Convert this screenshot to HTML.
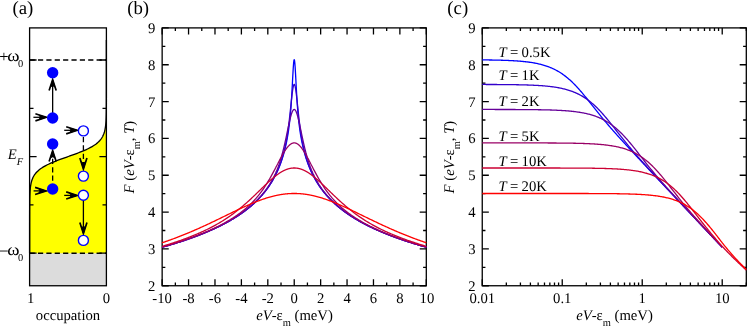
<!DOCTYPE html>
<html><head><meta charset="utf-8"><title>figure</title>
<style>html,body{margin:0;padding:0;background:#fff;width:747px;height:327px;overflow:hidden}svg{display:block;will-change:transform;text-rendering:geometricPrecision}</style></head>
<body>
<svg width="747" height="327" viewBox="0 0 747 327" font-family='"Liberation Serif", "DejaVu Serif", serif' font-size="14.7" fill="#000">
<rect width="747" height="327" fill="#fff"/>
<g id="panel-a">
<rect x="29.6" y="253.2" width="76.80000000000001" height="32.55000000000001" fill="#dcdcdc"/>
<polygon points="106.4,40 106.4,40.53 106.4,41.07 106.4,41.6 106.4,42.14 106.4,42.67 106.4,43.21 106.4,43.74 106.4,44.27 106.4,44.81 106.4,45.34 106.4,45.88 106.4,46.41 106.4,46.95 106.4,47.48 106.4,48.02 106.4,48.55 106.4,49.08 106.4,49.62 106.4,50.15 106.4,50.69 106.4,51.22 106.4,51.76 106.4,52.29 106.4,52.82 106.4,53.36 106.4,53.89 106.4,54.43 106.4,54.96 106.4,55.5 106.4,56.03 106.4,56.56 106.4,57.1 106.4,57.63 106.4,58.17 106.4,58.7 106.4,59.24 106.4,59.77 106.4,60.3 106.4,60.84 106.4,61.37 106.4,61.91 106.4,62.44 106.4,62.98 106.4,63.51 106.4,64.05 106.4,64.58 106.4,65.11 106.4,65.65 106.4,66.18 106.4,66.72 106.4,67.25 106.4,67.79 106.4,68.32 106.4,68.85 106.4,69.39 106.4,69.92 106.4,70.46 106.4,70.99 106.4,71.53 106.4,72.06 106.4,72.59 106.4,73.13 106.4,73.66 106.4,74.2 106.4,74.73 106.4,75.27 106.4,75.8 106.4,76.33 106.4,76.87 106.4,77.4 106.4,77.94 106.4,78.47 106.4,79.01 106.4,79.54 106.4,80.08 106.4,80.61 106.4,81.14 106.4,81.68 106.4,82.21 106.4,82.75 106.4,83.28 106.4,83.82 106.4,84.35 106.4,84.88 106.4,85.42 106.4,85.95 106.4,86.49 106.4,87.02 106.4,87.56 106.4,88.09 106.4,88.62 106.4,89.16 106.4,89.69 106.4,90.23 106.4,90.76 106.39,91.3 106.39,91.83 106.39,92.36 106.39,92.9 106.39,93.43 106.39,93.97 106.39,94.5 106.39,95.04 106.39,95.57 106.39,96.11 106.39,96.64 106.39,97.17 106.39,97.71 106.39,98.24 106.38,98.78 106.38,99.31 106.38,99.85 106.38,100.38 106.38,100.91 106.38,101.45 106.38,101.98 106.37,102.52 106.37,103.05 106.37,103.59 106.37,104.12 106.36,104.65 106.36,105.19 106.36,105.72 106.35,106.26 106.35,106.79 106.35,107.33 106.34,107.86 106.34,108.39 106.33,108.93 106.33,109.46 106.32,110 106.31,110.53 106.31,111.07 106.3,111.6 106.29,112.14 106.28,112.67 106.27,113.2 106.26,113.74 106.25,114.27 106.24,114.81 106.22,115.34 106.21,115.88 106.19,116.41 106.18,116.94 106.16,117.48 106.14,118.01 106.12,118.55 106.09,119.08 106.07,119.62 106.04,120.15 106.01,120.68 105.98,121.22 105.95,121.75 105.91,122.29 105.87,122.82 105.83,123.36 105.78,123.89 105.73,124.43 105.67,124.96 105.62,125.49 105.55,126.03 105.48,126.56 105.41,127.1 105.33,127.63 105.24,128.17 105.15,128.7 105.05,129.23 104.94,129.77 104.83,130.3 104.7,130.84 104.57,131.37 104.42,131.91 104.26,132.44 104.09,132.97 103.91,133.51 103.71,134.04 103.5,134.58 103.27,135.11 103.03,135.65 102.77,136.18 102.49,136.71 102.18,137.25 101.86,137.78 101.51,138.32 101.14,138.85 100.74,139.39 100.31,139.92 99.86,140.46 99.37,140.99 98.86,141.52 98.3,142.06 97.72,142.59 97.09,143.13 96.43,143.66 95.73,144.2 94.99,144.73 94.2,145.26 93.37,145.8 92.5,146.33 91.59,146.87 90.62,147.4 89.62,147.94 88.56,148.47 87.46,149 86.32,149.54 85.13,150.07 83.9,150.61 82.63,151.14 81.33,151.68 79.98,152.21 78.6,152.74 77.19,153.28 75.76,153.81 74.3,154.35 72.82,154.88 71.33,155.42 69.83,155.95 68.32,156.49 66.82,157.02 65.31,157.55 63.81,158.09 62.33,158.62 60.86,159.16 59.42,159.69 58,160.23 56.61,160.76 55.25,161.29 53.92,161.83 52.64,162.36 51.39,162.9 50.18,163.43 49.02,163.97 47.9,164.5 46.83,165.03 45.8,165.57 44.82,166.1 43.89,166.64 42.99,167.17 42.15,167.71 41.34,168.24 40.58,168.77 39.86,169.31 39.19,169.84 38.55,170.38 37.94,170.91 37.38,171.45 36.84,171.98 36.34,172.52 35.88,173.05 35.44,173.58 35.03,174.12 34.65,174.65 34.29,175.19 33.95,175.72 33.64,176.26 33.35,176.79 33.08,177.32 32.83,177.86 32.59,178.39 32.38,178.93 32.17,179.46 31.98,180 31.81,180.53 31.65,181.06 31.5,181.6 31.36,182.13 31.23,182.67 31.11,183.2 30.99,183.74 30.89,184.27 30.79,184.81 30.71,185.34 30.62,185.87 30.55,186.41 30.48,186.94 30.41,187.48 30.35,188.01 30.29,188.55 30.24,189.08 30.19,189.61 30.15,190.15 30.11,190.68 30.07,191.22 30.03,191.75 30,192.29 29.97,192.82 29.94,193.35 29.92,193.89 29.89,194.42 29.87,194.96 29.85,195.49 29.83,196.03 29.81,196.56 29.8,197.09 29.78,197.63 29.77,198.16 29.76,198.7 29.75,199.23 29.73,199.77 29.72,200.3 29.71,200.84 29.71,201.37 29.7,201.9 29.69,202.44 29.68,202.97 29.68,203.51 29.67,204.04 29.67,204.58 29.66,205.11 29.66,205.64 29.65,206.18 29.65,206.71 29.64,207.25 29.64,207.78 29.64,208.32 29.64,208.85 29.63,209.38 29.63,209.92 29.63,210.45 29.63,210.99 29.62,211.52 29.62,212.06 29.62,212.59 29.62,213.12 29.62,213.66 29.62,214.19 29.61,214.73 29.61,215.26 29.61,215.8 29.61,216.33 29.61,216.87 29.61,217.4 29.61,217.93 29.61,218.47 29.61,219 29.61,219.54 29.61,220.07 29.61,220.61 29.61,221.14 29.61,221.67 29.6,222.21 29.6,222.74 29.6,223.28 29.6,223.81 29.6,224.35 29.6,224.88 29.6,225.41 29.6,225.95 29.6,226.48 29.6,227.02 29.6,227.55 29.6,228.09 29.6,228.62 29.6,229.15 29.6,229.69 29.6,230.22 29.6,230.76 29.6,231.29 29.6,231.83 29.6,232.36 29.6,232.9 29.6,233.43 29.6,233.96 29.6,234.5 29.6,235.03 29.6,235.57 29.6,236.1 29.6,236.64 29.6,237.17 29.6,237.7 29.6,238.24 29.6,238.77 29.6,239.31 29.6,239.84 29.6,240.38 29.6,240.91 29.6,241.44 29.6,241.98 29.6,242.51 29.6,243.05 29.6,243.58 29.6,244.12 29.6,244.65 29.6,245.18 29.6,245.72 29.6,246.25 29.6,246.79 29.6,247.32 29.6,247.86 29.6,248.39 29.6,248.93 29.6,249.46 29.6,249.99 29.6,250.53 29.6,251.06 29.6,251.6 29.6,252.13 29.6,252.67 29.6,253.2 106.4,253.2" fill="#ffff00"/>
<polyline points="106.4,40 106.4,40.53 106.4,41.07 106.4,41.6 106.4,42.14 106.4,42.67 106.4,43.21 106.4,43.74 106.4,44.27 106.4,44.81 106.4,45.34 106.4,45.88 106.4,46.41 106.4,46.95 106.4,47.48 106.4,48.02 106.4,48.55 106.4,49.08 106.4,49.62 106.4,50.15 106.4,50.69 106.4,51.22 106.4,51.76 106.4,52.29 106.4,52.82 106.4,53.36 106.4,53.89 106.4,54.43 106.4,54.96 106.4,55.5 106.4,56.03 106.4,56.56 106.4,57.1 106.4,57.63 106.4,58.17 106.4,58.7 106.4,59.24 106.4,59.77 106.4,60.3 106.4,60.84 106.4,61.37 106.4,61.91 106.4,62.44 106.4,62.98 106.4,63.51 106.4,64.05 106.4,64.58 106.4,65.11 106.4,65.65 106.4,66.18 106.4,66.72 106.4,67.25 106.4,67.79 106.4,68.32 106.4,68.85 106.4,69.39 106.4,69.92 106.4,70.46 106.4,70.99 106.4,71.53 106.4,72.06 106.4,72.59 106.4,73.13 106.4,73.66 106.4,74.2 106.4,74.73 106.4,75.27 106.4,75.8 106.4,76.33 106.4,76.87 106.4,77.4 106.4,77.94 106.4,78.47 106.4,79.01 106.4,79.54 106.4,80.08 106.4,80.61 106.4,81.14 106.4,81.68 106.4,82.21 106.4,82.75 106.4,83.28 106.4,83.82 106.4,84.35 106.4,84.88 106.4,85.42 106.4,85.95 106.4,86.49 106.4,87.02 106.4,87.56 106.4,88.09 106.4,88.62 106.4,89.16 106.4,89.69 106.4,90.23 106.4,90.76 106.39,91.3 106.39,91.83 106.39,92.36 106.39,92.9 106.39,93.43 106.39,93.97 106.39,94.5 106.39,95.04 106.39,95.57 106.39,96.11 106.39,96.64 106.39,97.17 106.39,97.71 106.39,98.24 106.38,98.78 106.38,99.31 106.38,99.85 106.38,100.38 106.38,100.91 106.38,101.45 106.38,101.98 106.37,102.52 106.37,103.05 106.37,103.59 106.37,104.12 106.36,104.65 106.36,105.19 106.36,105.72 106.35,106.26 106.35,106.79 106.35,107.33 106.34,107.86 106.34,108.39 106.33,108.93 106.33,109.46 106.32,110 106.31,110.53 106.31,111.07 106.3,111.6 106.29,112.14 106.28,112.67 106.27,113.2 106.26,113.74 106.25,114.27 106.24,114.81 106.22,115.34 106.21,115.88 106.19,116.41 106.18,116.94 106.16,117.48 106.14,118.01 106.12,118.55 106.09,119.08 106.07,119.62 106.04,120.15 106.01,120.68 105.98,121.22 105.95,121.75 105.91,122.29 105.87,122.82 105.83,123.36 105.78,123.89 105.73,124.43 105.67,124.96 105.62,125.49 105.55,126.03 105.48,126.56 105.41,127.1 105.33,127.63 105.24,128.17 105.15,128.7 105.05,129.23 104.94,129.77 104.83,130.3 104.7,130.84 104.57,131.37 104.42,131.91 104.26,132.44 104.09,132.97 103.91,133.51 103.71,134.04 103.5,134.58 103.27,135.11 103.03,135.65 102.77,136.18 102.49,136.71 102.18,137.25 101.86,137.78 101.51,138.32 101.14,138.85 100.74,139.39 100.31,139.92 99.86,140.46 99.37,140.99 98.86,141.52 98.3,142.06 97.72,142.59 97.09,143.13 96.43,143.66 95.73,144.2 94.99,144.73 94.2,145.26 93.37,145.8 92.5,146.33 91.59,146.87 90.62,147.4 89.62,147.94 88.56,148.47 87.46,149 86.32,149.54 85.13,150.07 83.9,150.61 82.63,151.14 81.33,151.68 79.98,152.21 78.6,152.74 77.19,153.28 75.76,153.81 74.3,154.35 72.82,154.88 71.33,155.42 69.83,155.95 68.32,156.49 66.82,157.02 65.31,157.55 63.81,158.09 62.33,158.62 60.86,159.16 59.42,159.69 58,160.23 56.61,160.76 55.25,161.29 53.92,161.83 52.64,162.36 51.39,162.9 50.18,163.43 49.02,163.97 47.9,164.5 46.83,165.03 45.8,165.57 44.82,166.1 43.89,166.64 42.99,167.17 42.15,167.71 41.34,168.24 40.58,168.77 39.86,169.31 39.19,169.84 38.55,170.38 37.94,170.91 37.38,171.45 36.84,171.98 36.34,172.52 35.88,173.05 35.44,173.58 35.03,174.12 34.65,174.65 34.29,175.19 33.95,175.72 33.64,176.26 33.35,176.79 33.08,177.32 32.83,177.86 32.59,178.39 32.38,178.93 32.17,179.46 31.98,180 31.81,180.53 31.65,181.06 31.5,181.6 31.36,182.13 31.23,182.67 31.11,183.2 30.99,183.74 30.89,184.27 30.79,184.81 30.71,185.34 30.62,185.87 30.55,186.41 30.48,186.94 30.41,187.48 30.35,188.01 30.29,188.55 30.24,189.08 30.19,189.61 30.15,190.15 30.11,190.68 30.07,191.22 30.03,191.75 30,192.29 29.97,192.82 29.94,193.35 29.92,193.89 29.89,194.42 29.87,194.96 29.85,195.49 29.83,196.03 29.81,196.56 29.8,197.09 29.78,197.63 29.77,198.16 29.76,198.7 29.75,199.23 29.73,199.77 29.72,200.3 29.71,200.84 29.71,201.37 29.7,201.9 29.69,202.44 29.68,202.97 29.68,203.51 29.67,204.04 29.67,204.58 29.66,205.11 29.66,205.64 29.65,206.18 29.65,206.71 29.64,207.25 29.64,207.78 29.64,208.32 29.64,208.85 29.63,209.38 29.63,209.92 29.63,210.45 29.63,210.99 29.62,211.52 29.62,212.06 29.62,212.59 29.62,213.12 29.62,213.66 29.62,214.19 29.61,214.73 29.61,215.26 29.61,215.8 29.61,216.33 29.61,216.87 29.61,217.4 29.61,217.93 29.61,218.47 29.61,219 29.61,219.54 29.61,220.07 29.61,220.61 29.61,221.14 29.61,221.67 29.6,222.21 29.6,222.74 29.6,223.28 29.6,223.81 29.6,224.35 29.6,224.88 29.6,225.41 29.6,225.95 29.6,226.48 29.6,227.02 29.6,227.55 29.6,228.09 29.6,228.62 29.6,229.15 29.6,229.69 29.6,230.22 29.6,230.76 29.6,231.29 29.6,231.83 29.6,232.36 29.6,232.9 29.6,233.43 29.6,233.96 29.6,234.5 29.6,235.03 29.6,235.57 29.6,236.1 29.6,236.64 29.6,237.17 29.6,237.7 29.6,238.24 29.6,238.77 29.6,239.31 29.6,239.84 29.6,240.38 29.6,240.91 29.6,241.44 29.6,241.98 29.6,242.51 29.6,243.05 29.6,243.58 29.6,244.12 29.6,244.65 29.6,245.18 29.6,245.72 29.6,246.25 29.6,246.79 29.6,247.32 29.6,247.86 29.6,248.39 29.6,248.93 29.6,249.46 29.6,249.99 29.6,250.53 29.6,251.06 29.6,251.6 29.6,252.13 29.6,252.67 29.6,253.2" fill="none" stroke="#000" stroke-width="1.3"/>
<line x1="29.6" y1="60.0" x2="106.4" y2="60.0" stroke="#000" stroke-width="1.45" stroke-dasharray="5.2 3.17"/>
<line x1="29.6" y1="253.2" x2="106.4" y2="253.2" stroke="#000" stroke-width="1.45" stroke-dasharray="5.2 3.17"/>
<path d="M29.6,60h7.0M106.4,60h-7.0M29.6,108.3h3.9M106.4,108.3h-3.9M29.6,156.6h7.0M106.4,156.6h-7.0M29.6,204.9h3.9M106.4,204.9h-3.9M29.6,253.2h7.0M106.4,253.2h-7.0" stroke="#000" stroke-width="1.3" fill="none"/>
<rect x="29.6" y="27.9" width="76.80000000000001" height="257.85" fill="none" stroke="#000" stroke-width="1.3"/>
<line x1="52.65" y1="117.95" x2="52.65" y2="80.5" stroke="#000" stroke-width="1.3"/>
<path d="M56.2,90.6L52.65,79.7L49.1,90.6" fill="none" stroke="#000" stroke-width="1.7" stroke-linejoin="miter" stroke-miterlimit="10"/>
<path d="M52.65,78.3L55.55,87.7L52.65,86.2L49.75,87.7Z" fill="#000"/>
<line x1="52.65" y1="189" x2="52.65" y2="151.5" stroke="#000" stroke-width="1.3" stroke-dasharray="5.2 3.15" stroke-dashoffset="-8.25"/>
<path d="M56.2,161.6L52.65,150.7L49.1,161.6" fill="none" stroke="#000" stroke-width="1.7" stroke-linejoin="miter" stroke-miterlimit="10"/>
<path d="M52.65,149.3L55.55,158.7L52.65,157.2L49.75,158.7Z" fill="#000"/>
<line x1="83.4" y1="130.9" x2="83.4" y2="168.2" stroke="#000" stroke-width="1.3" stroke-dasharray="5.2 3.15" stroke-dashoffset="-6.1"/>
<path d="M79.85,158.1L83.4,169L86.95,158.1" fill="none" stroke="#000" stroke-width="1.7" stroke-linejoin="miter" stroke-miterlimit="10"/>
<path d="M83.4,170.4L80.5,161L83.4,162.5L86.3,161Z" fill="#000"/>
<line x1="83.4" y1="195.3" x2="83.4" y2="232.7" stroke="#000" stroke-width="1.3"/>
<path d="M79.85,222.6L83.4,233.5L86.95,222.6" fill="none" stroke="#000" stroke-width="1.7" stroke-linejoin="miter" stroke-miterlimit="10"/>
<path d="M83.4,234.9L80.5,225.5L83.4,227L86.3,225.5Z" fill="#000"/>
<line x1="33.4" y1="117.3" x2="45.5" y2="117.3" stroke="#000" stroke-width="1.3"/>
<path d="M35.4,120.85L46.3,117.3L35.4,113.75" fill="none" stroke="#000" stroke-width="1.7" stroke-linejoin="miter" stroke-miterlimit="10"/>
<path d="M47.7,117.3L38.3,120.2L39.8,117.3L38.3,114.4Z" fill="#000"/>
<line x1="33.6" y1="190.9" x2="45.2" y2="190.9" stroke="#000" stroke-width="1.3"/>
<path d="M35.1,194.45L46,190.9L35.1,187.35" fill="none" stroke="#000" stroke-width="1.7" stroke-linejoin="miter" stroke-miterlimit="10"/>
<path d="M47.4,190.9L38,193.8L39.5,190.9L38,188Z" fill="#000"/>
<line x1="64.2" y1="130.3" x2="76.3" y2="130.3" stroke="#000" stroke-width="1.3"/>
<path d="M66.2,133.85L77.1,130.3L66.2,126.75" fill="none" stroke="#000" stroke-width="1.7" stroke-linejoin="miter" stroke-miterlimit="10"/>
<path d="M78.5,130.3L69.1,133.2L70.6,130.3L69.1,127.4Z" fill="#000"/>
<line x1="64.2" y1="195.4" x2="76.3" y2="195.4" stroke="#000" stroke-width="1.3"/>
<path d="M66.2,198.95L77.1,195.4L66.2,191.85" fill="none" stroke="#000" stroke-width="1.7" stroke-linejoin="miter" stroke-miterlimit="10"/>
<path d="M78.5,195.4L69.1,198.3L70.6,195.4L69.1,192.5Z" fill="#000"/>
<circle cx="52.65" cy="72.8" r="5.7" fill="#0000ff"/>
<circle cx="52.65" cy="117.95" r="5.7" fill="#0000ff"/>
<circle cx="52.65" cy="144.0" r="5.7" fill="#0000ff"/>
<circle cx="52.65" cy="189.0" r="5.7" fill="#0000ff"/>
<circle cx="83.4" cy="130.9" r="5.0" fill="#fff" stroke="#0000ff" stroke-width="1.4"/>
<circle cx="83.4" cy="176.1" r="5.0" fill="#fff" stroke="#0000ff" stroke-width="1.4"/>
<circle cx="83.4" cy="195.3" r="5.0" fill="#fff" stroke="#0000ff" stroke-width="1.4"/>
<circle cx="83.4" cy="240.4" r="5.0" fill="#fff" stroke="#0000ff" stroke-width="1.4"/>
<text x="3.8" y="61.8" font-size="16.5" text-anchor="middle">+</text>
<text transform="translate(13.35,60.5) scale(1.27,1.12)" text-anchor="middle">ω</text>
<text x="20.55" y="67" font-size="10.44" text-anchor="middle">0</text>
<text x="3.6" y="256.6" font-size="18" text-anchor="middle">−</text>
<text transform="translate(13.35,254.8) scale(1.27,1.12)" text-anchor="middle">ω</text>
<text x="20.55" y="261.3" font-size="10.44" text-anchor="middle">0</text>
<text x="23.2" y="158.8" text-anchor="end" font-style="italic">E<tspan font-size="10.44" dy="6.1">F</tspan></text>
<text x="30.6" y="302.8" text-anchor="middle">1</text>
<text x="106.5" y="302.8" text-anchor="middle">0</text>
<text x="68" y="319.5" text-anchor="middle">occupation</text>
<text x="12.4" y="13.6" font-size="18.8">(a)</text>
</g>
<g id="panel-b">
<path d="M162.15,285.75v-6.6M162.15,27.9v6.6M188.56,285.75v-6.6M188.56,27.9v6.6M214.98,285.75v-6.6M214.98,27.9v6.6M241.39,285.75v-6.6M241.39,27.9v6.6M267.81,285.75v-6.6M267.81,27.9v6.6M294.23,285.75v-6.6M294.23,27.9v6.6M320.64,285.75v-6.6M320.64,27.9v6.6M347.05,285.75v-6.6M347.05,27.9v6.6M373.47,285.75v-6.6M373.47,27.9v6.6M399.88,285.75v-6.6M399.88,27.9v6.6M426.3,285.75v-6.6M426.3,27.9v6.6M175.36,285.75v-3.2M175.36,27.9v3.2M201.77,285.75v-3.2M201.77,27.9v3.2M228.19,285.75v-3.2M228.19,27.9v3.2M254.6,285.75v-3.2M254.6,27.9v3.2M281.02,285.75v-3.2M281.02,27.9v3.2M307.43,285.75v-3.2M307.43,27.9v3.2M333.85,285.75v-3.2M333.85,27.9v3.2M360.26,285.75v-3.2M360.26,27.9v3.2M386.68,285.75v-3.2M386.68,27.9v3.2M413.09,285.75v-3.2M413.09,27.9v3.2M162.15,285.75h6.6M426.3,285.75h-6.6M162.15,267.33h3.2M426.3,267.33h-3.2M162.15,248.91h6.6M426.3,248.91h-6.6M162.15,230.5h3.2M426.3,230.5h-3.2M162.15,212.08h6.6M426.3,212.08h-6.6M162.15,193.66h3.2M426.3,193.66h-3.2M162.15,175.24h6.6M426.3,175.24h-6.6M162.15,156.82h3.2M426.3,156.82h-3.2M162.15,138.41h6.6M426.3,138.41h-6.6M162.15,119.99h3.2M426.3,119.99h-3.2M162.15,101.57h6.6M426.3,101.57h-6.6M162.15,83.15h3.2M426.3,83.15h-3.2M162.15,64.74h6.6M426.3,64.74h-6.6M162.15,46.32h3.2M426.3,46.32h-3.2M162.15,27.9h6.6M426.3,27.9h-6.6" stroke="#000" stroke-width="1.3" fill="none"/>
<rect x="162.15" y="27.9" width="264.15" height="257.85" fill="none" stroke="#000" stroke-width="1.3"/>
<text x="155.45" y="290.75" text-anchor="end">2</text>
<text x="155.45" y="253.91" text-anchor="end">3</text>
<text x="155.45" y="217.08" text-anchor="end">4</text>
<text x="155.45" y="180.24" text-anchor="end">5</text>
<text x="155.45" y="143.41" text-anchor="end">6</text>
<text x="155.45" y="106.57" text-anchor="end">7</text>
<text x="155.45" y="69.74" text-anchor="end">8</text>
<text x="155.45" y="32.9" text-anchor="end">9</text>
<polyline points="162.15,247.2 163.09,246.94 164.04,246.67 164.98,246.41 165.92,246.14 166.87,245.86 167.81,245.59 168.75,245.31 169.7,245.04 170.64,244.76 171.58,244.47 172.53,244.19 173.47,243.9 174.41,243.61 175.36,243.32 176.3,243.03 177.24,242.73 178.19,242.43 179.13,242.13 180.07,241.83 181.02,241.52 181.96,241.22 182.9,240.91 183.85,240.59 184.79,240.28 185.73,239.96 186.68,239.64 187.62,239.31 188.56,238.98 189.51,238.65 190.45,238.32 191.4,237.98 192.34,237.64 193.28,237.3 194.23,236.95 195.17,236.61 196.11,236.25 197.06,235.9 198,235.54 198.94,235.17 199.89,234.81 200.83,234.44 201.77,234.06 202.72,233.69 203.66,233.3 204.6,232.92 205.55,232.53 206.49,232.13 207.43,231.74 208.38,231.33 209.32,230.93 210.26,230.52 211.21,230.1 212.15,229.68 213.09,229.25 214.04,228.82 214.98,228.38 215.92,227.94 216.87,227.5 217.81,227.05 218.75,226.59 219.7,226.12 220.64,225.65 221.58,225.18 222.53,224.7 223.47,224.21 224.41,223.72 225.36,223.21 226.3,222.71 227.24,222.19 228.19,221.67 229.13,221.14 230.07,220.6 231.02,220.05 231.96,219.5 232.9,218.94 233.85,218.37 234.79,217.79 235.73,217.2 236.68,216.6 237.62,215.99 238.56,215.37 239.51,214.74 240.45,214.1 241.39,213.45 242.34,212.78 243.28,212.11 244.23,211.42 245.17,210.71 246.11,210 247.06,209.27 248,208.52 248.94,207.76 249.89,206.99 250.83,206.2 251.77,205.39 252.72,204.56 253.66,203.71 254.6,202.84 255.55,201.96 256.49,201.04 257.43,200.11 258.38,199.15 259.32,198.17 260.26,197.16 261.21,196.12 262.15,195.05 263.09,193.95 264.04,192.82 264.98,191.65 265.92,190.44 266.87,189.19 267.81,187.89 268.75,186.55 269.7,185.16 270.64,183.71 271.58,182.2 272.53,180.63 273.47,178.99 274.41,177.27 274.55,177.03 274.68,176.78 274.81,176.53 274.94,176.27 275.07,176.02 275.21,175.77 275.34,175.51 275.47,175.25 275.6,174.99 275.73,174.72 275.87,174.46 276,174.19 276.13,173.92 276.26,173.65 276.39,173.38 276.53,173.11 276.66,172.83 276.79,172.55 276.92,172.27 277.06,171.98 277.19,171.7 277.32,171.41 277.45,171.12 277.58,170.83 277.72,170.53 277.85,170.24 277.98,169.94 278.11,169.64 278.24,169.33 278.38,169.02 278.51,168.71 278.64,168.4 278.77,168.09 278.9,167.77 279.04,167.45 279.17,167.13 279.3,166.8 279.43,166.47 279.56,166.14 279.7,165.8 279.83,165.46 279.96,165.12 280.09,164.78 280.23,164.43 280.36,164.08 280.49,163.72 280.62,163.37 280.75,163 280.89,162.64 281.02,162.27 281.15,161.9 281.28,161.52 281.41,161.14 281.55,160.76 281.68,160.37 281.81,159.97 281.94,159.58 282.07,159.18 282.21,158.77 282.34,158.36 282.47,157.94 282.6,157.52 282.73,157.1 282.87,156.67 283,156.23 283.13,155.79 283.26,155.35 283.39,154.9 283.53,154.44 283.66,153.98 283.79,153.51 283.92,153.03 284.06,152.55 284.19,152.06 284.32,151.57 284.45,151.07 284.58,150.56 284.72,150.04 284.85,149.52 284.98,148.99 285.11,148.45 285.24,147.9 285.38,147.35 285.51,146.78 285.64,146.21 285.77,145.62 285.9,145.03 286.04,144.43 286.17,143.82 286.3,143.19 286.43,142.56 286.56,141.91 286.7,141.25 286.83,140.58 286.96,139.89 287.09,139.19 287.23,138.48 287.36,137.75 287.49,137.01 287.62,136.25 287.75,135.47 287.89,134.67 288.02,133.86 288.15,133.02 288.28,132.16 288.41,131.28 288.55,130.38 288.68,129.45 288.81,128.5 288.94,127.51 289.07,126.5 289.21,125.45 289.34,124.37 289.47,123.25 289.6,122.09 289.73,120.89 289.87,119.65 290,118.36 290.13,117.01 290.26,115.62 290.39,114.16 290.53,112.65 290.66,111.07 290.79,109.42 290.92,107.7 291.06,105.9 291.19,104.03 291.32,102.08 291.45,100.05 291.58,97.94 291.72,95.75 291.85,93.49 291.98,91.16 292.11,88.76 292.24,86.32 292.38,83.84 292.51,81.34 292.64,78.84 292.77,76.37 292.9,73.94 293.04,71.61 293.17,69.39 293.3,67.32 293.43,65.43 293.56,63.77 293.7,62.35 293.83,61.22 293.96,60.4 294.09,59.89 294.23,59.72 294.36,59.89 294.49,60.4 294.62,61.22 294.75,62.35 294.89,63.77 295.02,65.43 295.15,67.32 295.28,69.39 295.41,71.61 295.55,73.94 295.68,76.37 295.81,78.84 295.94,81.34 296.07,83.84 296.21,86.32 296.34,88.76 296.47,91.16 296.6,93.49 296.73,95.75 296.87,97.94 297,100.05 297.13,102.08 297.26,104.03 297.39,105.9 297.53,107.7 297.66,109.42 297.79,111.07 297.92,112.65 298.06,114.16 298.19,115.62 298.32,117.01 298.45,118.36 298.58,119.65 298.72,120.89 298.85,122.09 298.98,123.25 299.11,124.37 299.24,125.45 299.38,126.5 299.51,127.51 299.64,128.5 299.77,129.45 299.9,130.38 300.04,131.28 300.17,132.16 300.3,133.02 300.43,133.86 300.56,134.67 300.7,135.47 300.83,136.25 300.96,137.01 301.09,137.75 301.22,138.48 301.36,139.19 301.49,139.89 301.62,140.58 301.75,141.25 301.89,141.91 302.02,142.56 302.15,143.19 302.28,143.82 302.41,144.43 302.55,145.03 302.68,145.62 302.81,146.21 302.94,146.78 303.07,147.35 303.21,147.9 303.34,148.45 303.47,148.99 303.6,149.52 303.73,150.04 303.87,150.56 304,151.07 304.13,151.57 304.26,152.06 304.39,152.55 304.53,153.03 304.66,153.51 304.79,153.98 304.92,154.44 305.06,154.9 305.19,155.35 305.32,155.79 305.45,156.23 305.58,156.67 305.72,157.1 305.85,157.52 305.98,157.94 306.11,158.36 306.24,158.77 306.38,159.18 306.51,159.58 306.64,159.97 306.77,160.37 306.9,160.76 307.04,161.14 307.17,161.52 307.3,161.9 307.43,162.27 307.56,162.64 307.7,163 307.83,163.37 307.96,163.72 308.09,164.08 308.22,164.43 308.36,164.78 308.49,165.12 308.62,165.46 308.75,165.8 308.89,166.14 309.02,166.47 309.15,166.8 309.28,167.13 309.41,167.45 309.55,167.77 309.68,168.09 309.81,168.4 309.94,168.71 310.07,169.02 310.21,169.33 310.34,169.64 310.47,169.94 310.6,170.24 310.73,170.53 310.87,170.83 311,171.12 311.13,171.41 311.26,171.7 311.39,171.98 311.53,172.27 311.66,172.55 311.79,172.83 311.92,173.11 312.06,173.38 312.19,173.65 312.32,173.92 312.45,174.19 312.58,174.46 312.72,174.72 312.85,174.99 312.98,175.25 313.11,175.51 313.24,175.77 313.38,176.02 313.51,176.27 313.64,176.53 313.77,176.78 313.9,177.03 314.04,177.27 314.98,178.99 315.92,180.63 316.87,182.2 317.81,183.71 318.75,185.16 319.7,186.55 320.64,187.89 321.58,189.19 322.53,190.44 323.47,191.65 324.41,192.82 325.36,193.95 326.3,195.05 327.24,196.12 328.19,197.16 329.13,198.17 330.07,199.15 331.02,200.11 331.96,201.04 332.9,201.96 333.85,202.84 334.79,203.71 335.73,204.56 336.68,205.39 337.62,206.2 338.56,206.99 339.51,207.76 340.45,208.52 341.39,209.27 342.34,210 343.28,210.71 344.22,211.42 345.17,212.11 346.11,212.78 347.05,213.45 348,214.1 348.94,214.74 349.89,215.37 350.83,215.99 351.77,216.6 352.72,217.2 353.66,217.79 354.6,218.37 355.55,218.94 356.49,219.5 357.43,220.05 358.38,220.6 359.32,221.14 360.26,221.67 361.21,222.19 362.15,222.71 363.09,223.21 364.04,223.72 364.98,224.21 365.92,224.7 366.87,225.18 367.81,225.65 368.75,226.12 369.7,226.59 370.64,227.05 371.58,227.5 372.53,227.94 373.47,228.38 374.41,228.82 375.36,229.25 376.3,229.68 377.24,230.1 378.19,230.52 379.13,230.93 380.07,231.33 381.02,231.74 381.96,232.13 382.9,232.53 383.85,232.92 384.79,233.3 385.73,233.69 386.68,234.06 387.62,234.44 388.56,234.81 389.51,235.17 390.45,235.54 391.39,235.9 392.34,236.25 393.28,236.61 394.22,236.95 395.17,237.3 396.11,237.64 397.05,237.98 398,238.32 398.94,238.65 399.88,238.98 400.83,239.31 401.77,239.64 402.72,239.96 403.66,240.28 404.6,240.59 405.55,240.91 406.49,241.22 407.43,241.52 408.38,241.83 409.32,242.13 410.26,242.43 411.21,242.73 412.15,243.03 413.09,243.32 414.04,243.61 414.98,243.9 415.92,244.19 416.87,244.47 417.81,244.76 418.75,245.04 419.7,245.31 420.64,245.59 421.58,245.86 422.53,246.14 423.47,246.41 424.41,246.67 425.36,246.94 426.3,247.2" fill="none" stroke="#0000ff" stroke-width="1.3" stroke-linejoin="round"/>
<polyline points="162.15,247.2 163.09,246.93 164.04,246.67 164.98,246.4 165.92,246.13 166.87,245.86 167.81,245.58 168.75,245.31 169.7,245.03 170.64,244.75 171.58,244.47 172.53,244.18 173.47,243.9 174.41,243.61 175.36,243.32 176.3,243.02 177.24,242.73 178.19,242.43 179.13,242.13 180.07,241.82 181.02,241.52 181.96,241.21 182.9,240.9 183.85,240.59 184.79,240.27 185.73,239.95 186.68,239.63 187.62,239.3 188.56,238.98 189.51,238.65 190.45,238.31 191.4,237.98 192.34,237.64 193.28,237.29 194.23,236.95 195.17,236.6 196.11,236.24 197.06,235.89 198,235.53 198.94,235.17 199.89,234.8 200.83,234.43 201.77,234.05 202.72,233.68 203.66,233.29 204.6,232.91 205.55,232.52 206.49,232.12 207.43,231.73 208.38,231.32 209.32,230.92 210.26,230.5 211.21,230.09 212.15,229.67 213.09,229.24 214.04,228.81 214.98,228.37 215.92,227.93 216.87,227.48 217.81,227.03 218.75,226.57 219.7,226.11 220.64,225.64 221.58,225.16 222.53,224.68 223.47,224.19 224.41,223.7 225.36,223.2 226.3,222.69 227.24,222.17 228.19,221.65 229.13,221.12 230.07,220.58 231.02,220.03 231.96,219.48 232.9,218.92 233.85,218.34 234.79,217.76 235.73,217.17 236.68,216.57 237.62,215.96 238.56,215.34 239.51,214.71 240.45,214.07 241.39,213.42 242.34,212.75 243.28,212.07 244.23,211.38 245.17,210.68 246.11,209.96 247.06,209.23 248,208.49 248.94,207.73 249.89,206.95 250.83,206.15 251.77,205.34 252.72,204.51 253.66,203.66 254.6,202.79 255.55,201.9 256.49,200.99 257.43,200.05 258.38,199.09 259.32,198.1 260.26,197.09 261.21,196.05 262.15,194.97 263.09,193.87 264.04,192.73 264.98,191.55 265.92,190.33 266.87,189.08 267.81,187.77 268.75,186.42 269.7,185.02 270.64,183.56 271.58,182.04 272.53,180.45 273.47,178.79 274.41,177.05 274.55,176.8 274.68,176.54 274.81,176.29 274.94,176.03 275.07,175.78 275.21,175.52 275.34,175.26 275.47,174.99 275.6,174.73 275.73,174.46 275.87,174.19 276,173.92 276.13,173.65 276.26,173.37 276.39,173.09 276.53,172.81 276.66,172.53 276.79,172.25 276.92,171.96 277.06,171.67 277.19,171.38 277.32,171.09 277.45,170.79 277.58,170.49 277.72,170.19 277.85,169.89 277.98,169.58 278.11,169.27 278.24,168.96 278.38,168.64 278.51,168.33 278.64,168.01 278.77,167.68 278.9,167.36 279.04,167.03 279.17,166.69 279.3,166.36 279.43,166.02 279.56,165.68 279.7,165.33 279.83,164.98 279.96,164.63 280.09,164.27 280.23,163.91 280.36,163.55 280.49,163.18 280.62,162.81 280.75,162.43 280.89,162.05 281.02,161.67 281.15,161.28 281.28,160.89 281.41,160.49 281.55,160.09 281.68,159.68 281.81,159.27 281.94,158.85 282.07,158.43 282.21,158 282.34,157.56 282.47,157.12 282.6,156.68 282.73,156.23 282.87,155.77 283,155.31 283.13,154.84 283.26,154.36 283.39,153.87 283.53,153.38 283.66,152.88 283.79,152.38 283.92,151.86 284.06,151.34 284.19,150.81 284.32,150.27 284.45,149.72 284.58,149.16 284.72,148.59 284.85,148.01 284.98,147.43 285.11,146.83 285.24,146.22 285.38,145.6 285.51,144.96 285.64,144.32 285.77,143.66 285.9,142.99 286.04,142.31 286.17,141.61 286.3,140.9 286.43,140.17 286.56,139.43 286.7,138.68 286.83,137.9 286.96,137.12 287.09,136.31 287.23,135.49 287.36,134.65 287.49,133.79 287.62,132.91 287.75,132.02 287.89,131.1 288.02,130.17 288.15,129.21 288.28,128.24 288.41,127.24 288.55,126.23 288.68,125.19 288.81,124.14 288.94,123.06 289.07,121.97 289.21,120.86 289.34,119.72 289.47,118.57 289.6,117.4 289.73,116.21 289.87,115.01 290,113.8 290.13,112.57 290.26,111.33 290.39,110.08 290.53,108.82 290.66,107.56 290.79,106.29 290.92,105.03 291.06,103.77 291.19,102.51 291.32,101.26 291.45,100.03 291.58,98.82 291.72,97.62 291.85,96.45 291.98,95.31 292.11,94.2 292.24,93.13 292.38,92.11 292.51,91.13 292.64,90.2 292.77,89.33 292.9,88.52 293.04,87.77 293.17,87.09 293.3,86.48 293.43,85.94 293.56,85.48 293.7,85.1 293.83,84.81 293.96,84.59 294.09,84.47 294.23,84.42 294.36,84.47 294.49,84.59 294.62,84.81 294.75,85.1 294.89,85.48 295.02,85.94 295.15,86.48 295.28,87.09 295.41,87.77 295.55,88.52 295.68,89.33 295.81,90.2 295.94,91.13 296.07,92.11 296.21,93.13 296.34,94.2 296.47,95.31 296.6,96.45 296.73,97.62 296.87,98.82 297,100.03 297.13,101.26 297.26,102.51 297.39,103.77 297.53,105.03 297.66,106.29 297.79,107.56 297.92,108.82 298.06,110.08 298.19,111.33 298.32,112.57 298.45,113.8 298.58,115.01 298.72,116.21 298.85,117.4 298.98,118.57 299.11,119.72 299.24,120.86 299.38,121.97 299.51,123.06 299.64,124.14 299.77,125.19 299.9,126.23 300.04,127.24 300.17,128.24 300.3,129.21 300.43,130.17 300.56,131.1 300.7,132.02 300.83,132.91 300.96,133.79 301.09,134.65 301.22,135.49 301.36,136.31 301.49,137.12 301.62,137.9 301.75,138.68 301.89,139.43 302.02,140.17 302.15,140.9 302.28,141.61 302.41,142.31 302.55,142.99 302.68,143.66 302.81,144.32 302.94,144.96 303.07,145.6 303.21,146.22 303.34,146.83 303.47,147.43 303.6,148.01 303.73,148.59 303.87,149.16 304,149.72 304.13,150.27 304.26,150.81 304.39,151.34 304.53,151.86 304.66,152.38 304.79,152.88 304.92,153.38 305.06,153.87 305.19,154.36 305.32,154.84 305.45,155.31 305.58,155.77 305.72,156.23 305.85,156.68 305.98,157.12 306.11,157.56 306.24,158 306.38,158.43 306.51,158.85 306.64,159.27 306.77,159.68 306.9,160.09 307.04,160.49 307.17,160.89 307.3,161.28 307.43,161.67 307.56,162.05 307.7,162.43 307.83,162.81 307.96,163.18 308.09,163.55 308.22,163.91 308.36,164.27 308.49,164.63 308.62,164.98 308.75,165.33 308.89,165.68 309.02,166.02 309.15,166.36 309.28,166.69 309.41,167.03 309.55,167.36 309.68,167.68 309.81,168.01 309.94,168.33 310.07,168.64 310.21,168.96 310.34,169.27 310.47,169.58 310.6,169.89 310.73,170.19 310.87,170.49 311,170.79 311.13,171.09 311.26,171.38 311.39,171.67 311.53,171.96 311.66,172.25 311.79,172.53 311.92,172.81 312.06,173.09 312.19,173.37 312.32,173.65 312.45,173.92 312.58,174.19 312.72,174.46 312.85,174.73 312.98,174.99 313.11,175.26 313.24,175.52 313.38,175.78 313.51,176.03 313.64,176.29 313.77,176.54 313.9,176.8 314.04,177.05 314.98,178.79 315.92,180.45 316.87,182.04 317.81,183.56 318.75,185.02 319.7,186.42 320.64,187.77 321.58,189.08 322.53,190.33 323.47,191.55 324.41,192.73 325.36,193.87 326.3,194.97 327.24,196.05 328.19,197.09 329.13,198.1 330.07,199.09 331.02,200.05 331.96,200.99 332.9,201.9 333.85,202.79 334.79,203.66 335.73,204.51 336.68,205.34 337.62,206.15 338.56,206.95 339.51,207.73 340.45,208.49 341.39,209.23 342.34,209.96 343.28,210.68 344.22,211.38 345.17,212.07 346.11,212.75 347.05,213.42 348,214.07 348.94,214.71 349.89,215.34 350.83,215.96 351.77,216.57 352.72,217.17 353.66,217.76 354.6,218.34 355.55,218.92 356.49,219.48 357.43,220.03 358.38,220.58 359.32,221.12 360.26,221.65 361.21,222.17 362.15,222.69 363.09,223.2 364.04,223.7 364.98,224.19 365.92,224.68 366.87,225.16 367.81,225.64 368.75,226.11 369.7,226.57 370.64,227.03 371.58,227.48 372.53,227.93 373.47,228.37 374.41,228.81 375.36,229.24 376.3,229.67 377.24,230.09 378.19,230.5 379.13,230.92 380.07,231.32 381.02,231.73 381.96,232.12 382.9,232.52 383.85,232.91 384.79,233.29 385.73,233.68 386.68,234.05 387.62,234.43 388.56,234.8 389.51,235.17 390.45,235.53 391.39,235.89 392.34,236.24 393.28,236.6 394.22,236.95 395.17,237.29 396.11,237.64 397.05,237.98 398,238.31 398.94,238.65 399.88,238.98 400.83,239.3 401.77,239.63 402.72,239.95 403.66,240.27 404.6,240.59 405.55,240.9 406.49,241.21 407.43,241.52 408.38,241.82 409.32,242.13 410.26,242.43 411.21,242.73 412.15,243.02 413.09,243.32 414.04,243.61 414.98,243.9 415.92,244.18 416.87,244.47 417.81,244.75 418.75,245.03 419.7,245.31 420.64,245.58 421.58,245.86 422.53,246.13 423.47,246.4 424.41,246.67 425.36,246.93 426.3,247.2" fill="none" stroke="#3300cc" stroke-width="1.3" stroke-linejoin="round"/>
<polyline points="162.15,247.18 163.09,246.91 164.04,246.65 164.98,246.38 165.92,246.11 166.87,245.84 167.81,245.56 168.75,245.29 169.7,245.01 170.64,244.73 171.58,244.45 172.53,244.16 173.47,243.87 174.41,243.58 175.36,243.29 176.3,243 177.24,242.7 178.19,242.4 179.13,242.1 180.07,241.8 181.02,241.49 181.96,241.18 182.9,240.87 183.85,240.56 184.79,240.24 185.73,239.92 186.68,239.6 187.62,239.27 188.56,238.94 189.51,238.61 190.45,238.28 191.4,237.94 192.34,237.6 193.28,237.26 194.23,236.91 195.17,236.56 196.11,236.21 197.06,235.85 198,235.49 198.94,235.13 199.89,234.76 200.83,234.39 201.77,234.01 202.72,233.63 203.66,233.25 204.6,232.87 205.55,232.47 206.49,232.08 207.43,231.68 208.38,231.28 209.32,230.87 210.26,230.45 211.21,230.04 212.15,229.61 213.09,229.19 214.04,228.75 214.98,228.32 215.92,227.87 216.87,227.42 217.81,226.97 218.75,226.51 219.7,226.05 220.64,225.57 221.58,225.1 222.53,224.61 223.47,224.12 224.41,223.63 225.36,223.12 226.3,222.61 227.24,222.09 228.19,221.57 229.13,221.03 230.07,220.49 231.02,219.94 231.96,219.39 232.9,218.82 233.85,218.25 234.79,217.66 235.73,217.07 236.68,216.46 237.62,215.85 238.56,215.23 239.51,214.59 240.45,213.94 241.39,213.29 242.34,212.62 243.28,211.93 244.23,211.24 245.17,210.53 246.11,209.8 247.06,209.07 248,208.31 248.94,207.54 249.89,206.76 250.83,205.95 251.77,205.13 252.72,204.29 253.66,203.43 254.6,202.55 255.55,201.64 256.49,200.72 257.43,199.76 258.38,198.79 259.32,197.78 260.26,196.74 261.21,195.68 262.15,194.58 263.09,193.44 264.04,192.27 264.98,191.06 265.92,189.8 266.87,188.49 267.81,187.13 268.75,185.72 269.7,184.25 270.64,182.7 271.58,181.08 272.53,179.38 273.47,177.59 274.41,175.69 274.55,175.42 274.68,175.14 274.81,174.86 274.94,174.58 275.07,174.3 275.21,174.01 275.34,173.72 275.47,173.43 275.6,173.14 275.73,172.84 275.87,172.54 276,172.24 276.13,171.93 276.26,171.63 276.39,171.31 276.53,171 276.66,170.68 276.79,170.37 276.92,170.04 277.06,169.72 277.19,169.39 277.32,169.06 277.45,168.72 277.58,168.38 277.72,168.04 277.85,167.7 277.98,167.35 278.11,167 278.24,166.64 278.38,166.28 278.51,165.92 278.64,165.55 278.77,165.18 278.9,164.81 279.04,164.43 279.17,164.05 279.3,163.66 279.43,163.27 279.56,162.88 279.7,162.48 279.83,162.08 279.96,161.67 280.09,161.26 280.23,160.84 280.36,160.42 280.49,160 280.62,159.57 280.75,159.13 280.89,158.7 281.02,158.25 281.15,157.81 281.28,157.35 281.41,156.9 281.55,156.43 281.68,155.97 281.81,155.49 281.94,155.02 282.07,154.53 282.21,154.05 282.34,153.55 282.47,153.06 282.6,152.55 282.73,152.05 282.87,151.53 283,151.02 283.13,150.49 283.26,149.97 283.39,149.43 283.53,148.89 283.66,148.35 283.79,147.8 283.92,147.25 284.06,146.69 284.19,146.13 284.32,145.56 284.45,144.99 284.58,144.41 284.72,143.83 284.85,143.24 284.98,142.65 285.11,142.06 285.24,141.46 285.38,140.86 285.51,140.25 285.64,139.64 285.77,139.03 285.9,138.41 286.04,137.79 286.17,137.17 286.3,136.54 286.43,135.92 286.56,135.29 286.7,134.65 286.83,134.02 286.96,133.39 287.09,132.75 287.23,132.11 287.36,131.48 287.49,130.84 287.62,130.2 287.75,129.57 287.89,128.93 288.02,128.3 288.15,127.67 288.28,127.04 288.41,126.41 288.55,125.79 288.68,125.17 288.81,124.56 288.94,123.95 289.07,123.35 289.21,122.75 289.34,122.15 289.47,121.57 289.6,120.99 289.73,120.42 289.87,119.86 290,119.31 290.13,118.76 290.26,118.23 290.39,117.71 290.53,117.2 290.66,116.7 290.79,116.21 290.92,115.74 291.06,115.27 291.19,114.83 291.32,114.4 291.45,113.98 291.58,113.58 291.72,113.19 291.85,112.82 291.98,112.47 292.11,112.14 292.24,111.82 292.38,111.52 292.51,111.24 292.64,110.98 292.77,110.74 292.9,110.52 293.04,110.32 293.17,110.14 293.3,109.98 293.43,109.84 293.56,109.72 293.7,109.63 293.83,109.55 293.96,109.5 294.09,109.46 294.23,109.45 294.36,109.46 294.49,109.5 294.62,109.55 294.75,109.63 294.89,109.72 295.02,109.84 295.15,109.98 295.28,110.14 295.41,110.32 295.55,110.52 295.68,110.74 295.81,110.98 295.94,111.24 296.07,111.52 296.21,111.82 296.34,112.14 296.47,112.47 296.6,112.82 296.73,113.19 296.87,113.58 297,113.98 297.13,114.4 297.26,114.83 297.39,115.27 297.53,115.74 297.66,116.21 297.79,116.7 297.92,117.2 298.06,117.71 298.19,118.23 298.32,118.76 298.45,119.31 298.58,119.86 298.72,120.42 298.85,120.99 298.98,121.57 299.11,122.15 299.24,122.75 299.38,123.35 299.51,123.95 299.64,124.56 299.77,125.17 299.9,125.79 300.04,126.41 300.17,127.04 300.3,127.67 300.43,128.3 300.56,128.93 300.7,129.57 300.83,130.2 300.96,130.84 301.09,131.48 301.22,132.11 301.36,132.75 301.49,133.39 301.62,134.02 301.75,134.65 301.89,135.29 302.02,135.92 302.15,136.54 302.28,137.17 302.41,137.79 302.55,138.41 302.68,139.03 302.81,139.64 302.94,140.25 303.07,140.86 303.21,141.46 303.34,142.06 303.47,142.65 303.6,143.24 303.73,143.83 303.87,144.41 304,144.99 304.13,145.56 304.26,146.13 304.39,146.69 304.53,147.25 304.66,147.8 304.79,148.35 304.92,148.89 305.06,149.43 305.19,149.97 305.32,150.49 305.45,151.02 305.58,151.53 305.72,152.05 305.85,152.55 305.98,153.06 306.11,153.55 306.24,154.05 306.38,154.53 306.51,155.02 306.64,155.49 306.77,155.97 306.9,156.43 307.04,156.9 307.17,157.35 307.3,157.81 307.43,158.25 307.56,158.7 307.7,159.13 307.83,159.57 307.96,160 308.09,160.42 308.22,160.84 308.36,161.26 308.49,161.67 308.62,162.08 308.75,162.48 308.89,162.88 309.02,163.27 309.15,163.66 309.28,164.05 309.41,164.43 309.55,164.81 309.68,165.18 309.81,165.55 309.94,165.92 310.07,166.28 310.21,166.64 310.34,167 310.47,167.35 310.6,167.7 310.73,168.04 310.87,168.38 311,168.72 311.13,169.06 311.26,169.39 311.39,169.72 311.53,170.04 311.66,170.37 311.79,170.68 311.92,171 312.06,171.31 312.19,171.63 312.32,171.93 312.45,172.24 312.58,172.54 312.72,172.84 312.85,173.14 312.98,173.43 313.11,173.72 313.24,174.01 313.38,174.3 313.51,174.58 313.64,174.86 313.77,175.14 313.9,175.42 314.04,175.69 314.98,177.59 315.92,179.38 316.87,181.08 317.81,182.7 318.75,184.25 319.7,185.72 320.64,187.13 321.58,188.49 322.53,189.8 323.47,191.06 324.41,192.27 325.36,193.44 326.3,194.58 327.24,195.68 328.19,196.74 329.13,197.78 330.07,198.79 331.02,199.76 331.96,200.72 332.9,201.64 333.85,202.55 334.79,203.43 335.73,204.29 336.68,205.13 337.62,205.95 338.56,206.76 339.51,207.54 340.45,208.31 341.39,209.07 342.34,209.8 343.28,210.53 344.22,211.24 345.17,211.93 346.11,212.62 347.05,213.29 348,213.94 348.94,214.59 349.89,215.23 350.83,215.85 351.77,216.46 352.72,217.07 353.66,217.66 354.6,218.25 355.55,218.82 356.49,219.39 357.43,219.94 358.38,220.49 359.32,221.03 360.26,221.57 361.21,222.09 362.15,222.61 363.09,223.12 364.04,223.63 364.98,224.12 365.92,224.61 366.87,225.1 367.81,225.57 368.75,226.05 369.7,226.51 370.64,226.97 371.58,227.42 372.53,227.87 373.47,228.32 374.41,228.75 375.36,229.19 376.3,229.61 377.24,230.04 378.19,230.45 379.13,230.87 380.07,231.28 381.02,231.68 381.96,232.08 382.9,232.47 383.85,232.87 384.79,233.25 385.73,233.63 386.68,234.01 387.62,234.39 388.56,234.76 389.51,235.13 390.45,235.49 391.39,235.85 392.34,236.21 393.28,236.56 394.22,236.91 395.17,237.26 396.11,237.6 397.05,237.94 398,238.28 398.94,238.61 399.88,238.94 400.83,239.27 401.77,239.6 402.72,239.92 403.66,240.24 404.6,240.56 405.55,240.87 406.49,241.18 407.43,241.49 408.38,241.8 409.32,242.1 410.26,242.4 411.21,242.7 412.15,243 413.09,243.29 414.04,243.58 414.98,243.87 415.92,244.16 416.87,244.45 417.81,244.73 418.75,245.01 419.7,245.29 420.64,245.56 421.58,245.84 422.53,246.11 423.47,246.38 424.41,246.65 425.36,246.91 426.3,247.18" fill="none" stroke="#660099" stroke-width="1.3" stroke-linejoin="round"/>
<polyline points="162.15,247.03 163.09,246.76 164.04,246.49 164.98,246.22 165.92,245.95 166.87,245.67 167.81,245.4 168.75,245.12 169.7,244.84 170.64,244.55 171.58,244.27 172.53,243.98 173.47,243.69 174.41,243.4 175.36,243.1 176.3,242.8 177.24,242.51 178.19,242.2 179.13,241.9 180.07,241.59 181.02,241.28 181.96,240.97 182.9,240.65 183.85,240.33 184.79,240.01 185.73,239.69 186.68,239.36 187.62,239.03 188.56,238.7 189.51,238.36 190.45,238.03 191.4,237.68 192.34,237.34 193.28,236.99 194.23,236.64 195.17,236.28 196.11,235.92 197.06,235.56 198,235.19 198.94,234.82 199.89,234.45 200.83,234.07 201.77,233.69 202.72,233.3 203.66,232.91 204.6,232.51 205.55,232.11 206.49,231.71 207.43,231.3 208.38,230.89 209.32,230.47 210.26,230.05 211.21,229.62 212.15,229.18 213.09,228.75 214.04,228.3 214.98,227.85 215.92,227.39 216.87,226.93 217.81,226.46 218.75,225.99 219.7,225.51 220.64,225.02 221.58,224.53 222.53,224.02 223.47,223.51 224.41,223 225.36,222.47 226.3,221.94 227.24,221.4 228.19,220.85 229.13,220.29 230.07,219.72 231.02,219.14 231.96,218.55 232.9,217.95 233.85,217.34 234.79,216.72 235.73,216.09 236.68,215.44 237.62,214.78 238.56,214.11 239.51,213.43 240.45,212.73 241.39,212.01 242.34,211.28 243.28,210.53 244.23,209.77 245.17,208.99 246.11,208.18 247.06,207.36 248,206.52 248.94,205.65 249.89,204.77 250.83,203.85 251.77,202.92 252.72,201.95 253.66,200.96 254.6,199.94 255.55,198.89 256.49,197.81 257.43,196.7 258.38,195.55 259.32,194.37 260.26,193.15 261.21,191.89 262.15,190.59 263.09,189.26 264.04,187.88 264.98,186.46 265.92,185 266.87,183.5 267.81,181.95 268.75,180.37 269.7,178.74 270.64,177.08 271.58,175.38 272.53,173.65 273.47,171.89 274.41,170.1 274.55,169.85 274.68,169.6 274.81,169.35 274.94,169.09 275.07,168.84 275.21,168.59 275.34,168.33 275.47,168.08 275.6,167.82 275.73,167.57 275.87,167.32 276,167.06 276.13,166.81 276.26,166.55 276.39,166.3 276.53,166.04 276.66,165.78 276.79,165.53 276.92,165.27 277.06,165.02 277.19,164.76 277.32,164.51 277.45,164.25 277.58,163.99 277.72,163.74 277.85,163.48 277.98,163.23 278.11,162.97 278.24,162.72 278.38,162.46 278.51,162.21 278.64,161.95 278.77,161.7 278.9,161.45 279.04,161.19 279.17,160.94 279.3,160.69 279.43,160.44 279.56,160.19 279.7,159.94 279.83,159.68 279.96,159.43 280.09,159.19 280.23,158.94 280.36,158.69 280.49,158.44 280.62,158.19 280.75,157.95 280.89,157.7 281.02,157.46 281.15,157.22 281.28,156.97 281.41,156.73 281.55,156.49 281.68,156.25 281.81,156.01 281.94,155.78 282.07,155.54 282.21,155.3 282.34,155.07 282.47,154.84 282.6,154.6 282.73,154.37 282.87,154.14 283,153.92 283.13,153.69 283.26,153.46 283.39,153.24 283.53,153.02 283.66,152.8 283.79,152.58 283.92,152.36 284.06,152.14 284.19,151.93 284.32,151.71 284.45,151.5 284.58,151.29 284.72,151.09 284.85,150.88 284.98,150.68 285.11,150.47 285.24,150.27 285.38,150.08 285.51,149.88 285.64,149.69 285.77,149.49 285.9,149.3 286.04,149.12 286.17,148.93 286.3,148.75 286.43,148.57 286.56,148.39 286.7,148.21 286.83,148.04 286.96,147.86 287.09,147.7 287.23,147.53 287.36,147.36 287.49,147.2 287.62,147.04 287.75,146.89 287.89,146.73 288.02,146.58 288.15,146.43 288.28,146.28 288.41,146.14 288.55,146 288.68,145.86 288.81,145.73 288.94,145.6 289.07,145.47 289.21,145.34 289.34,145.22 289.47,145.1 289.6,144.98 289.73,144.86 289.87,144.75 290,144.64 290.13,144.54 290.26,144.44 290.39,144.34 290.53,144.24 290.66,144.15 290.79,144.06 290.92,143.97 291.06,143.89 291.19,143.81 291.32,143.73 291.45,143.66 291.58,143.59 291.72,143.52 291.85,143.46 291.98,143.4 292.11,143.34 292.24,143.29 292.38,143.24 292.51,143.19 292.64,143.15 292.77,143.11 292.9,143.07 293.04,143.04 293.17,143.01 293.3,142.99 293.43,142.96 293.56,142.94 293.7,142.93 293.83,142.92 293.96,142.91 294.09,142.9 294.23,142.9 294.36,142.9 294.49,142.91 294.62,142.92 294.75,142.93 294.89,142.94 295.02,142.96 295.15,142.99 295.28,143.01 295.41,143.04 295.55,143.07 295.68,143.11 295.81,143.15 295.94,143.19 296.07,143.24 296.21,143.29 296.34,143.34 296.47,143.4 296.6,143.46 296.73,143.52 296.87,143.59 297,143.66 297.13,143.73 297.26,143.81 297.39,143.89 297.53,143.97 297.66,144.06 297.79,144.15 297.92,144.24 298.06,144.34 298.19,144.44 298.32,144.54 298.45,144.64 298.58,144.75 298.72,144.86 298.85,144.98 298.98,145.1 299.11,145.22 299.24,145.34 299.38,145.47 299.51,145.6 299.64,145.73 299.77,145.86 299.9,146 300.04,146.14 300.17,146.28 300.3,146.43 300.43,146.58 300.56,146.73 300.7,146.89 300.83,147.04 300.96,147.2 301.09,147.36 301.22,147.53 301.36,147.7 301.49,147.86 301.62,148.04 301.75,148.21 301.89,148.39 302.02,148.57 302.15,148.75 302.28,148.93 302.41,149.12 302.55,149.3 302.68,149.49 302.81,149.69 302.94,149.88 303.07,150.08 303.21,150.27 303.34,150.47 303.47,150.68 303.6,150.88 303.73,151.09 303.87,151.29 304,151.5 304.13,151.71 304.26,151.93 304.39,152.14 304.53,152.36 304.66,152.58 304.79,152.8 304.92,153.02 305.06,153.24 305.19,153.46 305.32,153.69 305.45,153.92 305.58,154.14 305.72,154.37 305.85,154.6 305.98,154.84 306.11,155.07 306.24,155.3 306.38,155.54 306.51,155.78 306.64,156.01 306.77,156.25 306.9,156.49 307.04,156.73 307.17,156.97 307.3,157.22 307.43,157.46 307.56,157.7 307.7,157.95 307.83,158.19 307.96,158.44 308.09,158.69 308.22,158.94 308.36,159.19 308.49,159.43 308.62,159.68 308.75,159.94 308.89,160.19 309.02,160.44 309.15,160.69 309.28,160.94 309.41,161.19 309.55,161.45 309.68,161.7 309.81,161.95 309.94,162.21 310.07,162.46 310.21,162.72 310.34,162.97 310.47,163.23 310.6,163.48 310.73,163.74 310.87,163.99 311,164.25 311.13,164.51 311.26,164.76 311.39,165.02 311.53,165.27 311.66,165.53 311.79,165.78 311.92,166.04 312.06,166.3 312.19,166.55 312.32,166.81 312.45,167.06 312.58,167.32 312.72,167.57 312.85,167.82 312.98,168.08 313.11,168.33 313.24,168.59 313.38,168.84 313.51,169.09 313.64,169.35 313.77,169.6 313.9,169.85 314.04,170.1 314.98,171.89 315.92,173.65 316.87,175.38 317.81,177.08 318.75,178.74 319.7,180.37 320.64,181.95 321.58,183.5 322.53,185 323.47,186.46 324.41,187.88 325.36,189.26 326.3,190.59 327.24,191.89 328.19,193.15 329.13,194.37 330.07,195.55 331.02,196.7 331.96,197.81 332.9,198.89 333.85,199.94 334.79,200.96 335.73,201.95 336.68,202.92 337.62,203.85 338.56,204.77 339.51,205.65 340.45,206.52 341.39,207.36 342.34,208.18 343.28,208.99 344.22,209.77 345.17,210.53 346.11,211.28 347.05,212.01 348,212.73 348.94,213.43 349.89,214.11 350.83,214.78 351.77,215.44 352.72,216.09 353.66,216.72 354.6,217.34 355.55,217.95 356.49,218.55 357.43,219.14 358.38,219.72 359.32,220.29 360.26,220.85 361.21,221.4 362.15,221.94 363.09,222.47 364.04,223 364.98,223.51 365.92,224.02 366.87,224.53 367.81,225.02 368.75,225.51 369.7,225.99 370.64,226.46 371.58,226.93 372.53,227.39 373.47,227.85 374.41,228.3 375.36,228.75 376.3,229.18 377.24,229.62 378.19,230.05 379.13,230.47 380.07,230.89 381.02,231.3 381.96,231.71 382.9,232.11 383.85,232.51 384.79,232.91 385.73,233.3 386.68,233.69 387.62,234.07 388.56,234.45 389.51,234.82 390.45,235.19 391.39,235.56 392.34,235.92 393.28,236.28 394.22,236.64 395.17,236.99 396.11,237.34 397.05,237.68 398,238.03 398.94,238.36 399.88,238.7 400.83,239.03 401.77,239.36 402.72,239.69 403.66,240.01 404.6,240.33 405.55,240.65 406.49,240.97 407.43,241.28 408.38,241.59 409.32,241.9 410.26,242.2 411.21,242.51 412.15,242.8 413.09,243.1 414.04,243.4 414.98,243.69 415.92,243.98 416.87,244.27 417.81,244.55 418.75,244.84 419.7,245.12 420.64,245.4 421.58,245.67 422.53,245.95 423.47,246.22 424.41,246.49 425.36,246.76 426.3,247.03" fill="none" stroke="#990066" stroke-width="1.3" stroke-linejoin="round"/>
<polyline points="162.15,246.32 163.09,246.04 164.04,245.76 164.98,245.47 165.92,245.19 166.87,244.9 167.81,244.61 168.75,244.31 169.7,244.02 170.64,243.72 171.58,243.42 172.53,243.11 173.47,242.8 174.41,242.49 175.36,242.18 176.3,241.87 177.24,241.55 178.19,241.22 179.13,240.9 180.07,240.57 181.02,240.24 181.96,239.9 182.9,239.57 183.85,239.22 184.79,238.88 185.73,238.53 186.68,238.18 187.62,237.82 188.56,237.46 189.51,237.09 190.45,236.72 191.4,236.35 192.34,235.97 193.28,235.59 194.23,235.21 195.17,234.82 196.11,234.42 197.06,234.02 198,233.62 198.94,233.21 199.89,232.79 200.83,232.37 201.77,231.94 202.72,231.51 203.66,231.08 204.6,230.63 205.55,230.18 206.49,229.73 207.43,229.27 208.38,228.8 209.32,228.33 210.26,227.85 211.21,227.36 212.15,226.87 213.09,226.37 214.04,225.86 214.98,225.34 215.92,224.82 216.87,224.29 217.81,223.75 218.75,223.2 219.7,222.65 220.64,222.08 221.58,221.51 222.53,220.93 223.47,220.34 224.41,219.74 225.36,219.13 226.3,218.52 227.24,217.89 228.19,217.25 229.13,216.61 230.07,215.95 231.02,215.28 231.96,214.61 232.9,213.92 233.85,213.22 234.79,212.51 235.73,211.8 236.68,211.07 237.62,210.33 238.56,209.58 239.51,208.82 240.45,208.05 241.39,207.27 242.34,206.48 243.28,205.67 244.23,204.86 245.17,204.04 246.11,203.21 247.06,202.37 248,201.52 248.94,200.66 249.89,199.8 250.83,198.92 251.77,198.04 252.72,197.15 253.66,196.25 254.6,195.35 255.55,194.45 256.49,193.54 257.43,192.62 258.38,191.71 259.32,190.79 260.26,189.87 261.21,188.95 262.15,188.04 263.09,187.12 264.04,186.21 264.98,185.31 265.92,184.41 266.87,183.52 267.81,182.64 268.75,181.77 269.7,180.91 270.64,180.06 271.58,179.24 272.53,178.42 273.47,177.63 274.41,176.86 274.55,176.75 274.68,176.64 274.81,176.54 274.94,176.43 275.07,176.33 275.21,176.23 275.34,176.12 275.47,176.02 275.6,175.92 275.73,175.81 275.87,175.71 276,175.61 276.13,175.51 276.26,175.41 276.39,175.31 276.53,175.21 276.66,175.11 276.79,175.01 276.92,174.91 277.06,174.82 277.19,174.72 277.32,174.62 277.45,174.53 277.58,174.43 277.72,174.34 277.85,174.24 277.98,174.15 278.11,174.06 278.24,173.96 278.38,173.87 278.51,173.78 278.64,173.69 278.77,173.6 278.9,173.51 279.04,173.42 279.17,173.33 279.3,173.24 279.43,173.16 279.56,173.07 279.7,172.98 279.83,172.9 279.96,172.81 280.09,172.73 280.23,172.64 280.36,172.56 280.49,172.48 280.62,172.4 280.75,172.32 280.89,172.23 281.02,172.15 281.15,172.08 281.28,172 281.41,171.92 281.55,171.84 281.68,171.77 281.81,171.69 281.94,171.61 282.07,171.54 282.21,171.47 282.34,171.39 282.47,171.32 282.6,171.25 282.73,171.18 282.87,171.11 283,171.04 283.13,170.97 283.26,170.9 283.39,170.83 283.53,170.76 283.66,170.7 283.79,170.63 283.92,170.57 284.06,170.5 284.19,170.44 284.32,170.38 284.45,170.32 284.58,170.26 284.72,170.2 284.85,170.14 284.98,170.08 285.11,170.02 285.24,169.96 285.38,169.91 285.51,169.85 285.64,169.79 285.77,169.74 285.9,169.69 286.04,169.63 286.17,169.58 286.3,169.53 286.43,169.48 286.56,169.43 286.7,169.38 286.83,169.34 286.96,169.29 287.09,169.24 287.23,169.2 287.36,169.15 287.49,169.11 287.62,169.06 287.75,169.02 287.89,168.98 288.02,168.94 288.15,168.9 288.28,168.86 288.41,168.82 288.55,168.79 288.68,168.75 288.81,168.71 288.94,168.68 289.07,168.64 289.21,168.61 289.34,168.58 289.47,168.55 289.6,168.52 289.73,168.49 289.87,168.46 290,168.43 290.13,168.4 290.26,168.38 290.39,168.35 290.53,168.33 290.66,168.3 290.79,168.28 290.92,168.26 291.06,168.24 291.19,168.22 291.32,168.2 291.45,168.18 291.58,168.16 291.72,168.14 291.85,168.13 291.98,168.11 292.11,168.1 292.24,168.08 292.38,168.07 292.51,168.06 292.64,168.05 292.77,168.04 292.9,168.03 293.04,168.02 293.17,168.01 293.3,168.01 293.43,168 293.56,168 293.7,167.99 293.83,167.99 293.96,167.99 294.09,167.99 294.23,167.98 294.36,167.99 294.49,167.99 294.62,167.99 294.75,167.99 294.89,168 295.02,168 295.15,168.01 295.28,168.01 295.41,168.02 295.55,168.03 295.68,168.04 295.81,168.05 295.94,168.06 296.07,168.07 296.21,168.08 296.34,168.1 296.47,168.11 296.6,168.13 296.73,168.14 296.87,168.16 297,168.18 297.13,168.2 297.26,168.22 297.39,168.24 297.53,168.26 297.66,168.28 297.79,168.3 297.92,168.33 298.06,168.35 298.19,168.38 298.32,168.4 298.45,168.43 298.58,168.46 298.72,168.49 298.85,168.52 298.98,168.55 299.11,168.58 299.24,168.61 299.38,168.64 299.51,168.68 299.64,168.71 299.77,168.75 299.9,168.79 300.04,168.82 300.17,168.86 300.3,168.9 300.43,168.94 300.56,168.98 300.7,169.02 300.83,169.06 300.96,169.11 301.09,169.15 301.22,169.2 301.36,169.24 301.49,169.29 301.62,169.34 301.75,169.38 301.89,169.43 302.02,169.48 302.15,169.53 302.28,169.58 302.41,169.63 302.55,169.69 302.68,169.74 302.81,169.79 302.94,169.85 303.07,169.91 303.21,169.96 303.34,170.02 303.47,170.08 303.6,170.14 303.73,170.2 303.87,170.26 304,170.32 304.13,170.38 304.26,170.44 304.39,170.5 304.53,170.57 304.66,170.63 304.79,170.7 304.92,170.76 305.06,170.83 305.19,170.9 305.32,170.97 305.45,171.04 305.58,171.11 305.72,171.18 305.85,171.25 305.98,171.32 306.11,171.39 306.24,171.47 306.38,171.54 306.51,171.61 306.64,171.69 306.77,171.77 306.9,171.84 307.04,171.92 307.17,172 307.3,172.08 307.43,172.15 307.56,172.23 307.7,172.32 307.83,172.4 307.96,172.48 308.09,172.56 308.22,172.64 308.36,172.73 308.49,172.81 308.62,172.9 308.75,172.98 308.89,173.07 309.02,173.16 309.15,173.24 309.28,173.33 309.41,173.42 309.55,173.51 309.68,173.6 309.81,173.69 309.94,173.78 310.07,173.87 310.21,173.96 310.34,174.06 310.47,174.15 310.6,174.24 310.73,174.34 310.87,174.43 311,174.53 311.13,174.62 311.26,174.72 311.39,174.82 311.53,174.91 311.66,175.01 311.79,175.11 311.92,175.21 312.06,175.31 312.19,175.41 312.32,175.51 312.45,175.61 312.58,175.71 312.72,175.81 312.85,175.92 312.98,176.02 313.11,176.12 313.24,176.23 313.38,176.33 313.51,176.43 313.64,176.54 313.77,176.64 313.9,176.75 314.04,176.86 314.98,177.63 315.92,178.42 316.87,179.24 317.81,180.06 318.75,180.91 319.7,181.77 320.64,182.64 321.58,183.52 322.53,184.41 323.47,185.31 324.41,186.21 325.36,187.12 326.3,188.04 327.24,188.95 328.19,189.87 329.13,190.79 330.07,191.71 331.02,192.62 331.96,193.54 332.9,194.45 333.85,195.35 334.79,196.25 335.73,197.15 336.68,198.04 337.62,198.92 338.56,199.8 339.51,200.66 340.45,201.52 341.39,202.37 342.34,203.21 343.28,204.04 344.22,204.86 345.17,205.67 346.11,206.48 347.05,207.27 348,208.05 348.94,208.82 349.89,209.58 350.83,210.33 351.77,211.07 352.72,211.8 353.66,212.51 354.6,213.22 355.55,213.92 356.49,214.61 357.43,215.28 358.38,215.95 359.32,216.61 360.26,217.25 361.21,217.89 362.15,218.52 363.09,219.13 364.04,219.74 364.98,220.34 365.92,220.93 366.87,221.51 367.81,222.08 368.75,222.65 369.7,223.2 370.64,223.75 371.58,224.29 372.53,224.82 373.47,225.34 374.41,225.86 375.36,226.37 376.3,226.87 377.24,227.36 378.19,227.85 379.13,228.33 380.07,228.8 381.02,229.27 381.96,229.73 382.9,230.18 383.85,230.63 384.79,231.08 385.73,231.51 386.68,231.94 387.62,232.37 388.56,232.79 389.51,233.21 390.45,233.62 391.39,234.02 392.34,234.42 393.28,234.82 394.22,235.21 395.17,235.59 396.11,235.97 397.05,236.35 398,236.72 398.94,237.09 399.88,237.46 400.83,237.82 401.77,238.18 402.72,238.53 403.66,238.88 404.6,239.22 405.55,239.57 406.49,239.9 407.43,240.24 408.38,240.57 409.32,240.9 410.26,241.22 411.21,241.55 412.15,241.87 413.09,242.18 414.04,242.49 414.98,242.8 415.92,243.11 416.87,243.42 417.81,243.72 418.75,244.02 419.7,244.31 420.64,244.61 421.58,244.9 422.53,245.19 423.47,245.47 424.41,245.76 425.36,246.04 426.3,246.32" fill="none" stroke="#cc0033" stroke-width="1.3" stroke-linejoin="round"/>
<polyline points="162.15,242.77 163.09,242.45 164.04,242.12 164.98,241.79 165.92,241.46 166.87,241.13 167.81,240.8 168.75,240.46 169.7,240.12 170.64,239.78 171.58,239.43 172.53,239.09 173.47,238.74 174.41,238.38 175.36,238.03 176.3,237.67 177.24,237.31 178.19,236.95 179.13,236.58 180.07,236.21 181.02,235.84 181.96,235.47 182.9,235.09 183.85,234.71 184.79,234.33 185.73,233.95 186.68,233.56 187.62,233.17 188.56,232.78 189.51,232.38 190.45,231.99 191.4,231.59 192.34,231.19 193.28,230.78 194.23,230.37 195.17,229.96 196.11,229.55 197.06,229.14 198,228.72 198.94,228.3 199.89,227.88 200.83,227.46 201.77,227.03 202.72,226.6 203.66,226.17 204.6,225.74 205.55,225.3 206.49,224.87 207.43,224.43 208.38,223.99 209.32,223.55 210.26,223.1 211.21,222.66 212.15,222.21 213.09,221.76 214.04,221.31 214.98,220.86 215.92,220.41 216.87,219.95 217.81,219.5 218.75,219.04 219.7,218.59 220.64,218.13 221.58,217.67 222.53,217.21 223.47,216.75 224.41,216.29 225.36,215.83 226.3,215.37 227.24,214.92 228.19,214.46 229.13,214 230.07,213.54 231.02,213.08 231.96,212.62 232.9,212.17 233.85,211.71 234.79,211.26 235.73,210.81 236.68,210.36 237.62,209.91 238.56,209.46 239.51,209.02 240.45,208.58 241.39,208.14 242.34,207.7 243.28,207.27 244.23,206.83 245.17,206.41 246.11,205.98 247.06,205.56 248,205.15 248.94,204.73 249.89,204.32 250.83,203.92 251.77,203.52 252.72,203.13 253.66,202.74 254.6,202.35 255.55,201.97 256.49,201.6 257.43,201.23 258.38,200.87 259.32,200.52 260.26,200.17 261.21,199.83 262.15,199.5 263.09,199.17 264.04,198.85 264.98,198.54 265.92,198.23 266.87,197.94 267.81,197.65 268.75,197.37 269.7,197.1 270.64,196.83 271.58,196.58 272.53,196.33 273.47,196.1 274.41,195.87 274.55,195.84 274.68,195.81 274.81,195.78 274.94,195.75 275.07,195.72 275.21,195.69 275.34,195.66 275.47,195.63 275.6,195.6 275.73,195.57 275.87,195.54 276,195.51 276.13,195.48 276.26,195.45 276.39,195.42 276.53,195.4 276.66,195.37 276.79,195.34 276.92,195.31 277.06,195.29 277.19,195.26 277.32,195.23 277.45,195.21 277.58,195.18 277.72,195.15 277.85,195.13 277.98,195.1 278.11,195.07 278.24,195.05 278.38,195.02 278.51,195 278.64,194.97 278.77,194.95 278.9,194.92 279.04,194.9 279.17,194.87 279.3,194.85 279.43,194.83 279.56,194.8 279.7,194.78 279.83,194.76 279.96,194.73 280.09,194.71 280.23,194.69 280.36,194.66 280.49,194.64 280.62,194.62 280.75,194.6 280.89,194.58 281.02,194.56 281.15,194.53 281.28,194.51 281.41,194.49 281.55,194.47 281.68,194.45 281.81,194.43 281.94,194.41 282.07,194.39 282.21,194.37 282.34,194.35 282.47,194.33 282.6,194.31 282.73,194.3 282.87,194.28 283,194.26 283.13,194.24 283.26,194.22 283.39,194.2 283.53,194.19 283.66,194.17 283.79,194.15 283.92,194.14 284.06,194.12 284.19,194.1 284.32,194.09 284.45,194.07 284.58,194.05 284.72,194.04 284.85,194.02 284.98,194.01 285.11,193.99 285.24,193.98 285.38,193.96 285.51,193.95 285.64,193.93 285.77,193.92 285.9,193.91 286.04,193.89 286.17,193.88 286.3,193.87 286.43,193.85 286.56,193.84 286.7,193.83 286.83,193.82 286.96,193.81 287.09,193.79 287.23,193.78 287.36,193.77 287.49,193.76 287.62,193.75 287.75,193.74 287.89,193.73 288.02,193.72 288.15,193.71 288.28,193.7 288.41,193.69 288.55,193.68 288.68,193.67 288.81,193.66 288.94,193.65 289.07,193.64 289.21,193.63 289.34,193.63 289.47,193.62 289.6,193.61 289.73,193.6 289.87,193.59 290,193.59 290.13,193.58 290.26,193.57 290.39,193.57 290.53,193.56 290.66,193.56 290.79,193.55 290.92,193.54 291.06,193.54 291.19,193.53 291.32,193.53 291.45,193.52 291.58,193.52 291.72,193.52 291.85,193.51 291.98,193.51 292.11,193.5 292.24,193.5 292.38,193.5 292.51,193.49 292.64,193.49 292.77,193.49 292.9,193.49 293.04,193.48 293.17,193.48 293.3,193.48 293.43,193.48 293.56,193.48 293.7,193.48 293.83,193.48 293.96,193.48 294.09,193.48 294.23,193.48 294.36,193.48 294.49,193.48 294.62,193.48 294.75,193.48 294.89,193.48 295.02,193.48 295.15,193.48 295.28,193.48 295.41,193.48 295.55,193.49 295.68,193.49 295.81,193.49 295.94,193.49 296.07,193.5 296.21,193.5 296.34,193.5 296.47,193.51 296.6,193.51 296.73,193.52 296.87,193.52 297,193.52 297.13,193.53 297.26,193.53 297.39,193.54 297.53,193.54 297.66,193.55 297.79,193.56 297.92,193.56 298.06,193.57 298.19,193.57 298.32,193.58 298.45,193.59 298.58,193.59 298.72,193.6 298.85,193.61 298.98,193.62 299.11,193.63 299.24,193.63 299.38,193.64 299.51,193.65 299.64,193.66 299.77,193.67 299.9,193.68 300.04,193.69 300.17,193.7 300.3,193.71 300.43,193.72 300.56,193.73 300.7,193.74 300.83,193.75 300.96,193.76 301.09,193.77 301.22,193.78 301.36,193.79 301.49,193.81 301.62,193.82 301.75,193.83 301.89,193.84 302.02,193.85 302.15,193.87 302.28,193.88 302.41,193.89 302.55,193.91 302.68,193.92 302.81,193.93 302.94,193.95 303.07,193.96 303.21,193.98 303.34,193.99 303.47,194.01 303.6,194.02 303.73,194.04 303.87,194.05 304,194.07 304.13,194.09 304.26,194.1 304.39,194.12 304.53,194.14 304.66,194.15 304.79,194.17 304.92,194.19 305.06,194.2 305.19,194.22 305.32,194.24 305.45,194.26 305.58,194.28 305.72,194.3 305.85,194.31 305.98,194.33 306.11,194.35 306.24,194.37 306.38,194.39 306.51,194.41 306.64,194.43 306.77,194.45 306.9,194.47 307.04,194.49 307.17,194.51 307.3,194.53 307.43,194.56 307.56,194.58 307.7,194.6 307.83,194.62 307.96,194.64 308.09,194.66 308.22,194.69 308.36,194.71 308.49,194.73 308.62,194.76 308.75,194.78 308.89,194.8 309.02,194.83 309.15,194.85 309.28,194.87 309.41,194.9 309.55,194.92 309.68,194.95 309.81,194.97 309.94,195 310.07,195.02 310.21,195.05 310.34,195.07 310.47,195.1 310.6,195.13 310.73,195.15 310.87,195.18 311,195.21 311.13,195.23 311.26,195.26 311.39,195.29 311.53,195.31 311.66,195.34 311.79,195.37 311.92,195.4 312.06,195.42 312.19,195.45 312.32,195.48 312.45,195.51 312.58,195.54 312.72,195.57 312.85,195.6 312.98,195.63 313.11,195.66 313.24,195.69 313.38,195.72 313.51,195.75 313.64,195.78 313.77,195.81 313.9,195.84 314.04,195.87 314.98,196.1 315.92,196.33 316.87,196.58 317.81,196.83 318.75,197.1 319.7,197.37 320.64,197.65 321.58,197.94 322.53,198.23 323.47,198.54 324.41,198.85 325.36,199.17 326.3,199.5 327.24,199.83 328.19,200.17 329.13,200.52 330.07,200.87 331.02,201.23 331.96,201.6 332.9,201.97 333.85,202.35 334.79,202.74 335.73,203.13 336.68,203.52 337.62,203.92 338.56,204.32 339.51,204.73 340.45,205.15 341.39,205.56 342.34,205.98 343.28,206.41 344.22,206.83 345.17,207.27 346.11,207.7 347.05,208.14 348,208.58 348.94,209.02 349.89,209.46 350.83,209.91 351.77,210.36 352.72,210.81 353.66,211.26 354.6,211.71 355.55,212.17 356.49,212.62 357.43,213.08 358.38,213.54 359.32,214 360.26,214.46 361.21,214.92 362.15,215.37 363.09,215.83 364.04,216.29 364.98,216.75 365.92,217.21 366.87,217.67 367.81,218.13 368.75,218.59 369.7,219.04 370.64,219.5 371.58,219.95 372.53,220.41 373.47,220.86 374.41,221.31 375.36,221.76 376.3,222.21 377.24,222.66 378.19,223.1 379.13,223.55 380.07,223.99 381.02,224.43 381.96,224.87 382.9,225.3 383.85,225.74 384.79,226.17 385.73,226.6 386.68,227.03 387.62,227.46 388.56,227.88 389.51,228.3 390.45,228.72 391.39,229.14 392.34,229.55 393.28,229.96 394.22,230.37 395.17,230.78 396.11,231.19 397.05,231.59 398,231.99 398.94,232.38 399.88,232.78 400.83,233.17 401.77,233.56 402.72,233.95 403.66,234.33 404.6,234.71 405.55,235.09 406.49,235.47 407.43,235.84 408.38,236.21 409.32,236.58 410.26,236.95 411.21,237.31 412.15,237.67 413.09,238.03 414.04,238.38 414.98,238.74 415.92,239.09 416.87,239.43 417.81,239.78 418.75,240.12 419.7,240.46 420.64,240.8 421.58,241.13 422.53,241.46 423.47,241.79 424.41,242.12 425.36,242.45 426.3,242.77" fill="none" stroke="#ff0000" stroke-width="1.3" stroke-linejoin="round"/>
<text x="162.15" y="303" text-anchor="middle">-10</text>
<text x="188.56" y="303" text-anchor="middle">-8</text>
<text x="214.98" y="303" text-anchor="middle">-6</text>
<text x="241.39" y="303" text-anchor="middle">-4</text>
<text x="267.81" y="303" text-anchor="middle">-2</text>
<text x="294.23" y="303" text-anchor="middle">0</text>
<text x="320.64" y="303" text-anchor="middle">2</text>
<text x="347.05" y="303" text-anchor="middle">4</text>
<text x="373.47" y="303" text-anchor="middle">6</text>
<text x="399.88" y="303" text-anchor="middle">8</text>
<text x="426.9" y="303" text-anchor="middle">10</text>
<text x="294.5" y="319.9" text-anchor="middle"><tspan font-style="italic">eV</tspan>-ε<tspan font-size="10.44" dy="5.9">m</tspan><tspan dy="-5.9"> (meV)</tspan></text>
<text transform="translate(134.1,157.1) rotate(-90)" text-anchor="middle"><tspan font-style="italic">F</tspan> (<tspan font-style="italic">eV</tspan>-ε<tspan font-size="10.44" dy="5.9">m</tspan><tspan dy="-5.9">, </tspan><tspan font-style="italic">T</tspan>)</text>
<text x="127.2" y="13.6" font-size="18.8">(b)</text>
</g>
<g id="panel-c">
<path d="M482.25,285.75v-6.6M482.25,27.9v6.6M562.24,285.75v-6.6M562.24,27.9v6.6M642.23,285.75v-6.6M642.23,27.9v6.6M722.22,285.75v-6.6M722.22,27.9v6.6M506.33,285.75v-3.2M506.33,27.9v3.2M520.42,285.75v-3.2M520.42,27.9v3.2M530.41,285.75v-3.2M530.41,27.9v3.2M538.16,285.75v-3.2M538.16,27.9v3.2M544.49,285.75v-3.2M544.49,27.9v3.2M549.85,285.75v-3.2M549.85,27.9v3.2M554.49,285.75v-3.2M554.49,27.9v3.2M558.58,285.75v-3.2M558.58,27.9v3.2M586.32,285.75v-3.2M586.32,27.9v3.2M600.41,285.75v-3.2M600.41,27.9v3.2M610.4,285.75v-3.2M610.4,27.9v3.2M618.15,285.75v-3.2M618.15,27.9v3.2M624.48,285.75v-3.2M624.48,27.9v3.2M629.84,285.75v-3.2M629.84,27.9v3.2M634.48,285.75v-3.2M634.48,27.9v3.2M638.57,285.75v-3.2M638.57,27.9v3.2M666.31,285.75v-3.2M666.31,27.9v3.2M680.4,285.75v-3.2M680.4,27.9v3.2M690.39,285.75v-3.2M690.39,27.9v3.2M698.14,285.75v-3.2M698.14,27.9v3.2M704.47,285.75v-3.2M704.47,27.9v3.2M709.83,285.75v-3.2M709.83,27.9v3.2M714.47,285.75v-3.2M714.47,27.9v3.2M718.56,285.75v-3.2M718.56,27.9v3.2M746.3,285.75v-3.2M746.3,27.9v3.2M482.25,285.75h6.6M746.3,285.75h-6.6M482.25,267.33h3.2M746.3,267.33h-3.2M482.25,248.91h6.6M746.3,248.91h-6.6M482.25,230.5h3.2M746.3,230.5h-3.2M482.25,212.08h6.6M746.3,212.08h-6.6M482.25,193.66h3.2M746.3,193.66h-3.2M482.25,175.24h6.6M746.3,175.24h-6.6M482.25,156.82h3.2M746.3,156.82h-3.2M482.25,138.41h6.6M746.3,138.41h-6.6M482.25,119.99h3.2M746.3,119.99h-3.2M482.25,101.57h6.6M746.3,101.57h-6.6M482.25,83.15h3.2M746.3,83.15h-3.2M482.25,64.74h6.6M746.3,64.74h-6.6M482.25,46.32h3.2M746.3,46.32h-3.2M482.25,27.9h6.6M746.3,27.9h-6.6" stroke="#000" stroke-width="1.3" fill="none"/>
<rect x="482.25" y="27.9" width="264.05" height="257.85" fill="none" stroke="#000" stroke-width="1.3"/>
<text x="475.55" y="290.75" text-anchor="end">2</text>
<text x="475.55" y="253.91" text-anchor="end">3</text>
<text x="475.55" y="217.08" text-anchor="end">4</text>
<text x="475.55" y="180.24" text-anchor="end">5</text>
<text x="475.55" y="143.41" text-anchor="end">6</text>
<text x="475.55" y="106.57" text-anchor="end">7</text>
<text x="475.55" y="69.74" text-anchor="end">8</text>
<text x="475.55" y="32.9" text-anchor="end">9</text>
<polyline points="482.25,59.89 483.05,59.9 483.86,59.91 484.66,59.92 485.46,59.93 486.26,59.94 487.07,59.95 487.87,59.96 488.67,59.97 489.47,59.98 490.28,59.99 491.08,60.01 491.88,60.02 492.68,60.03 493.49,60.05 494.29,60.06 495.09,60.08 495.89,60.1 496.7,60.11 497.5,60.13 498.3,60.15 499.1,60.17 499.91,60.19 500.71,60.21 501.51,60.24 502.31,60.26 503.12,60.28 503.92,60.31 504.72,60.34 505.52,60.37 506.33,60.4 507.13,60.43 507.93,60.46 508.74,60.5 509.54,60.53 510.34,60.57 511.14,60.61 511.95,60.65 512.75,60.69 513.55,60.74 514.35,60.79 515.16,60.84 515.96,60.89 516.76,60.94 517.56,61 518.37,61.06 519.17,61.12 519.97,61.19 520.77,61.25 521.58,61.33 522.38,61.4 523.18,61.48 523.98,61.56 524.79,61.64 525.59,61.73 526.39,61.82 527.19,61.92 528,62.02 528.8,62.13 529.6,62.24 530.4,62.35 531.21,62.47 532.01,62.6 532.81,62.73 533.61,62.87 534.42,63.01 535.22,63.16 536.02,63.32 536.83,63.48 537.63,63.65 538.43,63.83 539.23,64.01 540.04,64.2 540.84,64.41 541.64,64.61 542.44,64.83 543.25,65.06 544.05,65.3 544.85,65.54 545.65,65.8 546.46,66.07 547.26,66.34 548.06,66.63 548.86,66.93 549.67,67.24 550.47,67.57 551.27,67.9 552.07,68.25 552.88,68.62 553.68,68.99 554.48,69.38 555.28,69.79 556.09,70.21 556.89,70.64 557.69,71.09 558.49,71.56 559.3,72.04 560.1,72.54 560.9,73.05 561.71,73.58 562.51,74.13 563.31,74.69 564.11,75.28 564.92,75.88 565.72,76.5 566.52,77.13 567.32,77.79 568.13,78.46 568.93,79.15 569.73,79.85 570.53,80.58 571.34,81.32 572.14,82.08 572.94,82.86 573.74,83.65 574.55,84.47 575.35,85.29 576.15,86.14 576.95,86.99 577.76,87.87 578.56,88.76 579.36,89.66 580.16,90.57 580.97,91.5 581.77,92.44 582.57,93.39 583.37,94.35 584.18,95.31 584.98,96.29 585.78,97.28 586.59,98.27 587.39,99.27 588.19,100.27 588.99,101.28 589.8,102.29 590.6,103.3 591.4,104.32 592.2,105.33 593.01,106.35 593.81,107.36 594.61,108.38 595.41,109.39 596.22,110.4 597.02,111.41 597.82,112.41 598.62,113.41 599.43,114.41 600.23,115.4 601.03,116.39 601.83,117.37 602.64,118.34 603.44,119.31 604.24,120.28 605.04,121.24 605.85,122.2 606.65,123.14 607.45,124.09 608.25,125.03 609.06,125.96 609.86,126.89 610.66,127.81 611.46,128.73 612.27,129.65 613.07,130.56 613.87,131.47 614.68,132.37 615.48,133.27 616.28,134.17 617.08,135.06 617.89,135.95 618.69,136.84 619.49,137.73 620.29,138.61 621.1,139.49 621.9,140.37 622.7,141.25 623.5,142.12 624.31,143 625.11,143.87 625.91,144.74 626.71,145.61 627.52,146.48 628.32,147.35 629.12,148.21 629.92,149.08 630.73,149.94 631.53,150.81 632.33,151.67 633.13,152.53 633.94,153.39 634.74,154.26 635.54,155.12 636.34,155.98 637.15,156.84 637.95,157.7 638.75,158.55 639.56,159.41 640.36,160.27 641.16,161.13 641.96,161.98 642.77,162.84 643.57,163.7 644.37,164.55 645.17,165.41 645.98,166.27 646.78,167.12 647.58,167.98 648.38,168.83 649.19,169.69 649.99,170.54 650.79,171.4 651.59,172.25 652.4,173.1 653.2,173.96 654,174.81 654.8,175.67 655.61,176.52 656.41,177.37 657.21,178.23 658.01,179.08 658.82,179.93 659.62,180.79 660.42,181.64 661.22,182.49 662.03,183.34 662.83,184.2 663.63,185.05 664.44,185.9 665.24,186.75 666.04,187.61 666.84,188.46 667.65,189.31 668.45,190.16 669.25,191.01 670.05,191.87 670.86,192.72 671.66,193.57 672.46,194.42 673.26,195.27 674.07,196.13 674.87,196.98 675.67,197.83 676.47,198.68 677.28,199.53 678.08,200.39 678.88,201.24 679.68,202.09 680.49,202.94 681.29,203.79 682.09,204.64 682.89,205.49 683.7,206.35 684.5,207.2 685.3,208.05 686.1,208.9 686.91,209.75 687.71,210.6 688.51,211.45 689.31,212.31 690.12,213.16 690.92,214.01 691.72,214.86 692.53,215.71 693.33,216.56 694.13,217.41 694.93,218.27 695.74,219.12 696.54,219.97 697.34,220.82 698.14,221.67 698.95,222.52 699.75,223.37 700.55,224.22 701.35,225.07 702.16,225.93 702.96,226.78 703.76,227.63 704.56,228.48 705.37,229.33 706.17,230.18 706.97,231.03 707.77,231.88 708.58,232.74 709.38,233.59 710.18,234.44 710.98,235.29 711.79,236.14 712.59,236.99 713.39,237.84 714.19,238.69 715,239.54 715.8,240.39 716.6,241.25 717.41,242.1 718.21,242.95 719.01,243.8 719.81,244.65 720.62,245.5 721.42,246.35 722.22,247.2" fill="none" stroke="#0000ff" stroke-width="1.3" stroke-linejoin="round"/>
<polyline points="482.25,84.47 483.05,84.47 483.86,84.47 484.66,84.47 485.46,84.47 486.26,84.48 487.07,84.48 487.87,84.48 488.67,84.49 489.47,84.49 490.28,84.49 491.08,84.49 491.88,84.5 492.68,84.5 493.49,84.51 494.29,84.51 495.09,84.51 495.89,84.52 496.7,84.52 497.5,84.53 498.3,84.53 499.1,84.54 499.91,84.54 500.71,84.55 501.51,84.55 502.31,84.56 503.12,84.57 503.92,84.57 504.72,84.58 505.52,84.59 506.33,84.59 507.13,84.6 507.93,84.61 508.74,84.62 509.54,84.63 510.34,84.64 511.14,84.65 511.95,84.66 512.75,84.67 513.55,84.68 514.35,84.69 515.16,84.71 515.96,84.72 516.76,84.74 517.56,84.75 518.37,84.76 519.17,84.78 519.97,84.8 520.77,84.82 521.58,84.83 522.38,84.85 523.18,84.87 523.98,84.89 524.79,84.92 525.59,84.94 526.39,84.96 527.19,84.99 528,85.02 528.8,85.04 529.6,85.07 530.4,85.1 531.21,85.14 532.01,85.17 532.81,85.2 533.61,85.24 534.42,85.28 535.22,85.32 536.02,85.36 536.83,85.41 537.63,85.45 538.43,85.5 539.23,85.55 540.04,85.6 540.84,85.66 541.64,85.71 542.44,85.77 543.25,85.84 544.05,85.9 544.85,85.97 545.65,86.04 546.46,86.12 547.26,86.2 548.06,86.28 548.86,86.37 549.67,86.46 550.47,86.55 551.27,86.65 552.07,86.75 552.88,86.86 553.68,86.97 554.48,87.09 555.28,87.21 556.09,87.34 556.89,87.47 557.69,87.61 558.49,87.75 559.3,87.9 560.1,88.06 560.9,88.23 561.71,88.4 562.51,88.58 563.31,88.76 564.11,88.96 564.92,89.16 565.72,89.37 566.52,89.59 567.32,89.82 568.13,90.06 568.93,90.31 569.73,90.57 570.53,90.84 571.34,91.12 572.14,91.41 572.94,91.72 573.74,92.03 574.55,92.36 575.35,92.7 576.15,93.06 576.95,93.42 577.76,93.8 578.56,94.2 579.36,94.61 580.16,95.03 580.97,95.47 581.77,95.93 582.57,96.4 583.37,96.89 584.18,97.39 584.98,97.91 585.78,98.45 586.59,99 587.39,99.57 588.19,100.16 588.99,100.77 589.8,101.39 590.6,102.04 591.4,102.7 592.2,103.38 593.01,104.07 593.81,104.79 594.61,105.52 595.41,106.27 596.22,107.04 597.02,107.83 597.82,108.63 598.62,109.45 599.43,110.29 600.23,111.14 601.03,112.01 601.83,112.89 602.64,113.79 603.44,114.7 604.24,115.62 605.04,116.56 605.85,117.5 606.65,118.46 607.45,119.43 608.25,120.41 609.06,121.4 609.86,122.39 610.66,123.39 611.46,124.4 612.27,125.41 613.07,126.43 613.87,127.45 614.68,128.47 615.48,129.5 616.28,130.52 617.08,131.55 617.89,132.57 618.69,133.6 619.49,134.62 620.29,135.64 621.1,136.65 621.9,137.67 622.7,138.67 623.5,139.68 624.31,140.68 625.11,141.67 625.91,142.66 626.71,143.65 627.52,144.62 628.32,145.6 629.12,146.57 629.92,147.53 630.73,148.48 631.53,149.43 632.33,150.38 633.13,151.32 633.94,152.26 634.74,153.19 635.54,154.11 636.34,155.03 637.15,155.95 637.95,156.86 638.75,157.77 639.56,158.68 640.36,159.58 641.16,160.48 641.96,161.37 642.77,162.26 643.57,163.15 644.37,164.04 645.17,164.93 645.98,165.81 646.78,166.69 647.58,167.57 648.38,168.45 649.19,169.32 649.99,170.2 650.79,171.07 651.59,171.94 652.4,172.81 653.2,173.68 654,174.55 654.8,175.42 655.61,176.28 656.41,177.15 657.21,178.01 658.01,178.88 658.82,179.74 659.62,180.6 660.42,181.46 661.22,182.33 662.03,183.19 662.83,184.05 663.63,184.91 664.44,185.77 665.24,186.63 666.04,187.48 666.84,188.34 667.65,189.2 668.45,190.06 669.25,190.91 670.05,191.77 670.86,192.63 671.66,193.48 672.46,194.34 673.26,195.2 674.07,196.05 674.87,196.91 675.67,197.76 676.47,198.62 677.28,199.47 678.08,200.33 678.88,201.18 679.68,202.03 680.49,202.89 681.29,203.74 682.09,204.6 682.89,205.45 683.7,206.3 684.5,207.16 685.3,208.01 686.1,208.86 686.91,209.72 687.71,210.57 688.51,211.42 689.31,212.28 690.12,213.13 690.92,213.98 691.72,214.83 692.53,215.69 693.33,216.54 694.13,217.39 694.93,218.24 695.74,219.1 696.54,219.95 697.34,220.8 698.14,221.65 698.95,222.5 699.75,223.36 700.55,224.21 701.35,225.06 702.16,225.91 702.96,226.76 703.76,227.62 704.56,228.47 705.37,229.32 706.17,230.17 706.97,231.02 707.77,231.87 708.58,232.73 709.38,233.58 710.18,234.43 710.98,235.28 711.79,236.13 712.59,236.98 713.39,237.83 714.19,238.69 715,239.54 715.8,240.39 716.6,241.24 717.41,242.09 718.21,242.94 719.01,243.79 719.81,244.65 720.62,245.5 721.42,246.35 722.22,247.2" fill="none" stroke="#3300cc" stroke-width="1.3" stroke-linejoin="round"/>
<polyline points="482.25,109.46 483.05,109.46 483.86,109.47 484.66,109.47 485.46,109.47 486.26,109.47 487.07,109.47 487.87,109.47 488.67,109.47 489.47,109.47 490.28,109.47 491.08,109.47 491.88,109.47 492.68,109.47 493.49,109.47 494.29,109.47 495.09,109.48 495.89,109.48 496.7,109.48 497.5,109.48 498.3,109.48 499.1,109.48 499.91,109.48 500.71,109.48 501.51,109.49 502.31,109.49 503.12,109.49 503.92,109.49 504.72,109.49 505.52,109.49 506.33,109.5 507.13,109.5 507.93,109.5 508.74,109.5 509.54,109.5 510.34,109.51 511.14,109.51 511.95,109.51 512.75,109.52 513.55,109.52 514.35,109.52 515.16,109.52 515.96,109.53 516.76,109.53 517.56,109.54 518.37,109.54 519.17,109.54 519.97,109.55 520.77,109.55 521.58,109.56 522.38,109.56 523.18,109.57 523.98,109.57 524.79,109.58 525.59,109.58 526.39,109.59 527.19,109.6 528,109.6 528.8,109.61 529.6,109.62 530.4,109.63 531.21,109.63 532.01,109.64 532.81,109.65 533.61,109.66 534.42,109.67 535.22,109.68 536.02,109.69 536.83,109.7 537.63,109.71 538.43,109.73 539.23,109.74 540.04,109.75 540.84,109.77 541.64,109.78 542.44,109.8 543.25,109.81 544.05,109.83 544.85,109.85 545.65,109.87 546.46,109.89 547.26,109.91 548.06,109.93 548.86,109.95 549.67,109.97 550.47,110 551.27,110.02 552.07,110.05 552.88,110.08 553.68,110.11 554.48,110.14 555.28,110.17 556.09,110.2 556.89,110.24 557.69,110.28 558.49,110.32 559.3,110.36 560.1,110.4 560.9,110.44 561.71,110.49 562.51,110.54 563.31,110.59 564.11,110.64 564.92,110.7 565.72,110.75 566.52,110.81 567.32,110.88 568.13,110.94 568.93,111.01 569.73,111.09 570.53,111.16 571.34,111.24 572.14,111.32 572.94,111.41 573.74,111.5 574.55,111.6 575.35,111.69 576.15,111.8 576.95,111.9 577.76,112.02 578.56,112.14 579.36,112.26 580.16,112.39 580.97,112.52 581.77,112.66 582.57,112.81 583.37,112.96 584.18,113.12 584.98,113.28 585.78,113.46 586.59,113.64 587.39,113.83 588.19,114.02 588.99,114.23 589.8,114.44 590.6,114.66 591.4,114.89 592.2,115.13 593.01,115.39 593.81,115.65 594.61,115.92 595.41,116.2 596.22,116.5 597.02,116.8 597.82,117.12 598.62,117.45 599.43,117.79 600.23,118.15 601.03,118.52 601.83,118.9 602.64,119.3 603.44,119.71 604.24,120.14 605.04,120.58 605.85,121.04 606.65,121.51 607.45,122.01 608.25,122.51 609.06,123.04 609.86,123.58 610.66,124.13 611.46,124.71 612.27,125.3 613.07,125.91 613.87,126.54 614.68,127.19 615.48,127.86 616.28,128.54 617.08,129.24 617.89,129.96 618.69,130.7 619.49,131.45 620.29,132.23 621.1,133.02 621.9,133.83 622.7,134.65 623.5,135.49 624.31,136.35 625.11,137.22 625.91,138.11 626.71,139.01 627.52,139.93 628.32,140.86 629.12,141.8 629.92,142.76 630.73,143.72 631.53,144.69 632.33,145.68 633.13,146.67 633.94,147.67 634.74,148.68 635.54,149.69 636.34,150.71 637.15,151.73 637.95,152.76 638.75,153.79 639.56,154.82 640.36,155.85 641.16,156.88 641.96,157.91 642.77,158.94 643.57,159.97 644.37,160.99 645.17,162.01 645.98,163.03 646.78,164.04 647.58,165.05 648.38,166.06 649.19,167.06 649.99,168.05 650.79,169.04 651.59,170.02 652.4,171 653.2,171.97 654,172.94 654.8,173.9 655.61,174.85 656.41,175.8 657.21,176.75 658.01,177.69 658.82,178.62 659.62,179.55 660.42,180.47 661.22,181.39 662.03,182.31 662.83,183.22 663.63,184.13 664.44,185.03 665.24,185.94 666.04,186.83 666.84,187.73 667.65,188.62 668.45,189.51 669.25,190.4 670.05,191.28 670.86,192.17 671.66,193.05 672.46,193.93 673.26,194.81 674.07,195.68 674.87,196.56 675.67,197.43 676.47,198.3 677.28,199.17 678.08,200.04 678.88,200.91 679.68,201.78 680.49,202.65 681.29,203.51 682.09,204.38 682.89,205.24 683.7,206.11 684.5,206.97 685.3,207.83 686.1,208.69 686.91,209.55 687.71,210.42 688.51,211.28 689.31,212.14 690.12,213 690.92,213.85 691.72,214.71 692.53,215.57 693.33,216.43 694.13,217.29 694.93,218.14 695.74,219 696.54,219.86 697.34,220.71 698.14,221.57 698.95,222.43 699.75,223.28 700.55,224.14 701.35,224.99 702.16,225.85 702.96,226.7 703.76,227.56 704.56,228.41 705.37,229.27 706.17,230.12 706.97,230.97 707.77,231.83 708.58,232.68 709.38,233.53 710.18,234.39 710.98,235.24 711.79,236.09 712.59,236.95 713.39,237.8 714.19,238.65 715,239.51 715.8,240.36 716.6,241.21 717.41,242.06 718.21,242.92 719.01,243.77 719.81,244.62 720.62,245.47 721.42,246.33 722.22,247.18" fill="none" stroke="#660099" stroke-width="1.3" stroke-linejoin="round"/>
<polyline points="482.25,142.9 483.05,142.9 483.86,142.9 484.66,142.9 485.46,142.9 486.26,142.9 487.07,142.9 487.87,142.9 488.67,142.9 489.47,142.9 490.28,142.9 491.08,142.9 491.88,142.9 492.68,142.9 493.49,142.9 494.29,142.9 495.09,142.9 495.89,142.9 496.7,142.9 497.5,142.9 498.3,142.9 499.1,142.9 499.91,142.91 500.71,142.91 501.51,142.91 502.31,142.91 503.12,142.91 503.92,142.91 504.72,142.91 505.52,142.91 506.33,142.91 507.13,142.91 507.93,142.91 508.74,142.91 509.54,142.91 510.34,142.91 511.14,142.91 511.95,142.91 512.75,142.91 513.55,142.91 514.35,142.91 515.16,142.91 515.96,142.91 516.76,142.91 517.56,142.91 518.37,142.91 519.17,142.91 519.97,142.92 520.77,142.92 521.58,142.92 522.38,142.92 523.18,142.92 523.98,142.92 524.79,142.92 525.59,142.92 526.39,142.92 527.19,142.92 528,142.92 528.8,142.93 529.6,142.93 530.4,142.93 531.21,142.93 532.01,142.93 532.81,142.93 533.61,142.93 534.42,142.93 535.22,142.94 536.02,142.94 536.83,142.94 537.63,142.94 538.43,142.94 539.23,142.95 540.04,142.95 540.84,142.95 541.64,142.95 542.44,142.96 543.25,142.96 544.05,142.96 544.85,142.96 545.65,142.97 546.46,142.97 547.26,142.97 548.06,142.98 548.86,142.98 549.67,142.98 550.47,142.99 551.27,142.99 552.07,143 552.88,143 553.68,143.01 554.48,143.01 555.28,143.02 556.09,143.02 556.89,143.03 557.69,143.03 558.49,143.04 559.3,143.05 560.1,143.05 560.9,143.06 561.71,143.07 562.51,143.08 563.31,143.08 564.11,143.09 564.92,143.1 565.72,143.11 566.52,143.12 567.32,143.13 568.13,143.14 568.93,143.15 569.73,143.17 570.53,143.18 571.34,143.19 572.14,143.21 572.94,143.22 573.74,143.24 574.55,143.25 575.35,143.27 576.15,143.29 576.95,143.3 577.76,143.32 578.56,143.34 579.36,143.36 580.16,143.38 580.97,143.41 581.77,143.43 582.57,143.46 583.37,143.48 584.18,143.51 584.98,143.54 585.78,143.57 586.59,143.6 587.39,143.63 588.19,143.67 588.99,143.7 589.8,143.74 590.6,143.78 591.4,143.82 592.2,143.86 593.01,143.91 593.81,143.96 594.61,144.01 595.41,144.06 596.22,144.11 597.02,144.17 597.82,144.23 598.62,144.29 599.43,144.35 600.23,144.42 601.03,144.49 601.83,144.57 602.64,144.64 603.44,144.72 604.24,144.81 605.04,144.9 605.85,144.99 606.65,145.08 607.45,145.19 608.25,145.29 609.06,145.4 609.86,145.52 610.66,145.64 611.46,145.76 612.27,145.89 613.07,146.03 613.87,146.17 614.68,146.32 615.48,146.48 616.28,146.64 617.08,146.81 617.89,146.98 618.69,147.17 619.49,147.36 620.29,147.56 621.1,147.77 621.9,147.98 622.7,148.21 623.5,148.45 624.31,148.69 625.11,148.95 625.91,149.21 626.71,149.49 627.52,149.78 628.32,150.08 629.12,150.39 629.92,150.71 630.73,151.05 631.53,151.4 632.33,151.76 633.13,152.13 633.94,152.52 634.74,152.93 635.54,153.35 636.34,153.78 637.15,154.23 637.95,154.7 638.75,155.18 639.56,155.68 640.36,156.19 641.16,156.72 641.96,157.27 642.77,157.84 643.57,158.42 644.37,159.02 645.17,159.64 645.98,160.28 646.78,160.94 647.58,161.61 648.38,162.31 649.19,163.02 649.99,163.74 650.79,164.49 651.59,165.26 652.4,166.04 653.2,166.84 654,167.66 654.8,168.49 655.61,169.34 656.41,170.2 657.21,171.09 658.01,171.98 658.82,172.89 659.62,173.82 660.42,174.75 661.22,175.7 662.03,176.66 662.83,177.64 663.63,178.62 664.44,179.61 665.24,180.61 666.04,181.61 666.84,182.63 667.65,183.65 668.45,184.67 669.25,185.7 670.05,186.73 670.86,187.76 671.66,188.79 672.46,189.83 673.26,190.86 674.07,191.89 674.87,192.93 675.67,193.96 676.47,194.98 677.28,196.01 678.08,197.03 678.88,198.04 679.68,199.05 680.49,200.06 681.29,201.06 682.09,202.05 682.89,203.04 683.7,204.03 684.5,205 685.3,205.98 686.1,206.94 686.91,207.91 687.71,208.86 688.51,209.81 689.31,210.76 690.12,211.69 690.92,212.63 691.72,213.56 692.53,214.48 693.33,215.4 694.13,216.32 694.93,217.23 695.74,218.14 696.54,219.05 697.34,219.95 698.14,220.85 698.95,221.74 699.75,222.64 700.55,223.53 701.35,224.42 702.16,225.3 702.96,226.19 703.76,227.07 704.56,227.95 705.37,228.83 706.17,229.7 706.97,230.58 707.77,231.45 708.58,232.33 709.38,233.2 710.18,234.07 710.98,234.94 711.79,235.81 712.59,236.67 713.39,237.54 714.19,238.41 715,239.27 715.8,240.13 716.6,241 717.41,241.86 718.21,242.72 719.01,243.59 719.81,244.45 720.62,245.31 721.42,246.17 722.22,247.03" fill="none" stroke="#990066" stroke-width="1.3" stroke-linejoin="round"/>
<polyline points="482.25,167.99 483.13,167.99 484.02,167.99 484.9,167.99 485.78,167.99 486.67,167.99 487.55,167.99 488.43,167.99 489.31,167.99 490.2,167.99 491.08,167.99 491.96,167.99 492.85,167.99 493.73,167.99 494.61,167.99 495.5,167.99 496.38,167.99 497.26,167.99 498.15,167.99 499.03,167.99 499.91,167.99 500.8,167.99 501.68,167.99 502.56,167.99 503.44,167.99 504.33,167.99 505.21,167.99 506.09,167.99 506.98,167.99 507.86,167.99 508.74,167.99 509.63,167.99 510.51,167.99 511.39,167.99 512.28,167.99 513.16,167.99 514.04,167.99 514.93,167.99 515.81,167.99 516.69,167.99 517.57,167.99 518.46,167.99 519.34,167.99 520.22,167.99 521.11,167.99 521.99,167.99 522.87,167.99 523.76,167.99 524.64,167.99 525.52,167.99 526.41,167.99 527.29,167.99 528.17,167.99 529.05,167.99 529.94,167.99 530.82,167.99 531.7,167.99 532.59,167.99 533.47,167.99 534.35,167.99 535.24,167.99 536.12,167.99 537,168 537.89,168 538.77,168 539.65,168 540.54,168 541.42,168 542.3,168 543.18,168 544.07,168 544.95,168 545.83,168 546.72,168 547.6,168 548.48,168 549.37,168.01 550.25,168.01 551.13,168.01 552.02,168.01 552.9,168.01 553.78,168.01 554.67,168.01 555.55,168.01 556.43,168.02 557.31,168.02 558.2,168.02 559.08,168.02 559.96,168.02 560.85,168.03 561.73,168.03 562.61,168.03 563.5,168.03 564.38,168.03 565.26,168.04 566.15,168.04 567.03,168.04 567.91,168.05 568.79,168.05 569.68,168.05 570.56,168.06 571.44,168.06 572.33,168.06 573.21,168.07 574.09,168.07 574.98,168.08 575.86,168.08 576.74,168.09 577.63,168.09 578.51,168.1 579.39,168.1 580.28,168.11 581.16,168.11 582.04,168.12 582.92,168.13 583.81,168.14 584.69,168.14 585.57,168.15 586.46,168.16 587.34,168.17 588.22,168.18 589.11,168.19 589.99,168.2 590.87,168.21 591.76,168.22 592.64,168.24 593.52,168.25 594.41,168.26 595.29,168.28 596.17,168.29 597.05,168.31 597.94,168.32 598.82,168.34 599.7,168.36 600.59,168.38 601.47,168.4 602.35,168.42 603.24,168.45 604.12,168.47 605,168.49 605.89,168.52 606.77,168.55 607.65,168.58 608.53,168.61 609.42,168.64 610.3,168.68 611.18,168.71 612.07,168.75 612.95,168.79 613.83,168.83 614.72,168.87 615.6,168.92 616.48,168.97 617.37,169.02 618.25,169.07 619.13,169.13 620.02,169.19 620.9,169.25 621.78,169.31 622.66,169.38 623.55,169.45 624.43,169.53 625.31,169.61 626.2,169.69 627.08,169.78 627.96,169.87 628.85,169.96 629.73,170.06 630.61,170.17 631.5,170.28 632.38,170.4 633.26,170.52 634.14,170.65 635.03,170.78 635.91,170.92 636.79,171.07 637.68,171.23 638.56,171.39 639.44,171.56 640.33,171.74 641.21,171.93 642.09,172.12 642.98,172.33 643.86,172.54 644.74,172.77 645.63,173.01 646.51,173.25 647.39,173.51 648.27,173.78 649.16,174.06 650.04,174.36 650.92,174.66 651.81,174.99 652.69,175.32 653.57,175.67 654.46,176.04 655.34,176.42 656.22,176.81 657.11,177.23 657.99,177.66 658.87,178.11 659.76,178.57 660.64,179.06 661.52,179.56 662.4,180.08 663.29,180.63 664.17,181.19 665.05,181.77 665.94,182.38 666.82,183 667.7,183.65 668.59,184.32 669.47,185.01 670.35,185.72 671.24,186.45 672.12,187.21 673,187.99 673.88,188.79 674.77,189.61 675.65,190.46 676.53,191.32 677.42,192.21 678.3,193.12 679.18,194.05 680.07,195 680.95,195.96 681.83,196.95 682.72,197.95 683.6,198.97 684.48,200.01 685.37,201.06 686.25,202.12 687.13,203.2 688.01,204.29 688.9,205.39 689.78,206.5 690.66,207.62 691.55,208.74 692.43,209.87 693.31,211.01 694.2,212.15 695.08,213.29 695.96,214.43 696.85,215.58 697.73,216.72 698.61,217.86 699.5,219 700.38,220.13 701.26,221.27 702.14,222.39 703.03,223.52 703.91,224.63 704.79,225.74 705.68,226.85 706.56,227.94 707.44,229.03 708.33,230.12 709.21,231.19 710.09,232.26 710.98,233.32 711.86,234.38 712.74,235.43 713.62,236.47 714.51,237.5 715.39,238.53 716.27,239.56 717.16,240.58 718.04,241.59 718.92,242.6 719.81,243.6 720.69,244.6 721.57,245.59 722.46,246.58 723.34,247.55 724.22,248.5 725.11,249.44 725.99,250.37 726.87,251.29 727.75,252.2 728.64,253.11 729.52,254.01 730.4,254.9 731.29,255.79 732.17,256.67 733.05,257.54 733.94,258.42 734.82,259.28 735.7,260.14 736.59,261 737.47,261.85 738.35,262.7 739.24,263.55 740.12,264.39 741,265.23 741.88,266.06 742.77,266.89 743.65,267.72 744.53,268.55 745.42,269.37 746.3,270.19" fill="none" stroke="#cc0033" stroke-width="1.3" stroke-linejoin="round"/>
<polyline points="482.25,193.48 483.13,193.48 484.02,193.48 484.9,193.48 485.78,193.48 486.67,193.48 487.55,193.48 488.43,193.48 489.31,193.48 490.2,193.48 491.08,193.48 491.96,193.48 492.85,193.48 493.73,193.48 494.61,193.48 495.5,193.48 496.38,193.48 497.26,193.48 498.15,193.48 499.03,193.48 499.91,193.48 500.8,193.48 501.68,193.48 502.56,193.48 503.44,193.48 504.33,193.48 505.21,193.48 506.09,193.48 506.98,193.48 507.86,193.48 508.74,193.48 509.63,193.48 510.51,193.48 511.39,193.48 512.28,193.48 513.16,193.48 514.04,193.48 514.93,193.48 515.81,193.48 516.69,193.48 517.57,193.48 518.46,193.48 519.34,193.48 520.22,193.48 521.11,193.48 521.99,193.48 522.87,193.48 523.76,193.48 524.64,193.48 525.52,193.48 526.41,193.48 527.29,193.48 528.17,193.48 529.05,193.48 529.94,193.48 530.82,193.48 531.7,193.48 532.59,193.48 533.47,193.48 534.35,193.48 535.24,193.48 536.12,193.48 537,193.48 537.89,193.48 538.77,193.48 539.65,193.48 540.54,193.48 541.42,193.48 542.3,193.48 543.18,193.48 544.07,193.48 544.95,193.48 545.83,193.48 546.72,193.48 547.6,193.48 548.48,193.48 549.37,193.48 550.25,193.48 551.13,193.48 552.02,193.48 552.9,193.48 553.78,193.48 554.67,193.48 555.55,193.48 556.43,193.48 557.31,193.48 558.2,193.48 559.08,193.48 559.96,193.48 560.85,193.49 561.73,193.49 562.61,193.49 563.5,193.49 564.38,193.49 565.26,193.49 566.15,193.49 567.03,193.49 567.91,193.49 568.79,193.49 569.68,193.49 570.56,193.49 571.44,193.49 572.33,193.49 573.21,193.5 574.09,193.5 574.98,193.5 575.86,193.5 576.74,193.5 577.63,193.5 578.51,193.5 579.39,193.5 580.28,193.51 581.16,193.51 582.04,193.51 582.92,193.51 583.81,193.51 584.69,193.52 585.57,193.52 586.46,193.52 587.34,193.52 588.22,193.52 589.11,193.53 589.99,193.53 590.87,193.53 591.76,193.54 592.64,193.54 593.52,193.54 594.41,193.55 595.29,193.55 596.17,193.55 597.05,193.56 597.94,193.56 598.82,193.57 599.7,193.57 600.59,193.57 601.47,193.58 602.35,193.59 603.24,193.59 604.12,193.6 605,193.6 605.89,193.61 606.77,193.62 607.65,193.62 608.53,193.63 609.42,193.64 610.3,193.65 611.18,193.66 612.07,193.67 612.95,193.68 613.83,193.69 614.72,193.7 615.6,193.71 616.48,193.72 617.37,193.74 618.25,193.75 619.13,193.76 620.02,193.78 620.9,193.79 621.78,193.81 622.66,193.83 623.55,193.85 624.43,193.87 625.31,193.89 626.2,193.91 627.08,193.93 627.96,193.95 628.85,193.98 629.73,194 630.61,194.03 631.5,194.06 632.38,194.09 633.26,194.12 634.14,194.16 635.03,194.19 635.91,194.23 636.79,194.27 637.68,194.31 638.56,194.35 639.44,194.4 640.33,194.44 641.21,194.49 642.09,194.55 642.98,194.6 643.86,194.66 644.74,194.72 645.63,194.79 646.51,194.85 647.39,194.92 648.27,195 649.16,195.08 650.04,195.16 650.92,195.24 651.81,195.33 652.69,195.43 653.57,195.53 654.46,195.63 655.34,195.74 656.22,195.86 657.11,195.98 657.99,196.11 658.87,196.24 659.76,196.38 660.64,196.52 661.52,196.68 662.4,196.84 663.29,197.01 664.17,197.18 665.05,197.37 665.94,197.56 666.82,197.77 667.7,197.98 668.59,198.2 669.47,198.43 670.35,198.68 671.24,198.93 672.12,199.2 673,199.48 673.88,199.77 674.77,200.08 675.65,200.39 676.53,200.73 677.42,201.07 678.3,201.43 679.18,201.81 680.07,202.2 680.95,202.61 681.83,203.04 682.72,203.48 683.6,203.94 684.48,204.42 685.37,204.92 686.25,205.44 687.13,205.98 688.01,206.53 688.9,207.11 689.78,207.71 690.66,208.33 691.55,208.97 692.43,209.64 693.31,210.32 694.2,211.03 695.08,211.76 695.96,212.51 696.85,213.28 697.73,214.08 698.61,214.89 699.5,215.73 700.38,216.59 701.26,217.48 702.14,218.38 703.03,219.3 703.91,220.25 704.79,221.21 705.68,222.19 706.56,223.19 707.44,224.21 708.33,225.24 709.21,226.29 710.09,227.35 710.98,228.42 711.86,229.51 712.74,230.61 713.62,231.71 714.51,232.83 715.39,233.95 716.27,235.08 717.16,236.22 718.04,237.36 718.92,238.5 719.81,239.64 720.69,240.79 721.57,241.93 722.46,243.07 723.34,244.19 724.22,245.29 725.11,246.38 725.99,247.46 726.87,248.53 727.75,249.59 728.64,250.63 729.52,251.67 730.4,252.69 731.29,253.7 732.17,254.7 733.05,255.69 733.94,256.67 734.82,257.64 735.7,258.6 736.59,259.55 737.47,260.49 738.35,261.42 739.24,262.34 740.12,263.25 741,264.15 741.88,265.05 742.77,265.94 743.65,266.82 744.53,267.69 745.42,268.56 746.3,269.42" fill="none" stroke="#ff0000" stroke-width="1.3" stroke-linejoin="round"/>
<text x="482.25" y="303" text-anchor="middle">0.01</text>
<text x="562.24" y="303" text-anchor="middle">0.1</text>
<text x="642.23" y="303" text-anchor="middle">1</text>
<text x="722.22" y="303" text-anchor="middle">10</text>
<text x="614.5" y="319.9" text-anchor="middle"><tspan font-style="italic">eV</tspan>-ε<tspan font-size="10.44" dy="5.9">m</tspan><tspan dy="-5.9"> (meV)</tspan></text>
<text transform="translate(454.1,157.1) rotate(-90)" text-anchor="middle"><tspan font-style="italic">F</tspan> (<tspan font-style="italic">eV</tspan>-ε<tspan font-size="10.44" dy="5.9">m</tspan><tspan dy="-5.9">, </tspan><tspan font-style="italic">T</tspan>)</text>
<text x="447.3" y="13.6" font-size="18.8">(c)</text>
<text x="498.6" y="57.3" word-spacing="-0.4"><tspan font-style="italic">T</tspan> = 0.5K</text>
<text x="498.6" y="80.0" word-spacing="-0.4"><tspan font-style="italic">T</tspan> = 1K</text>
<text x="498.6" y="105.6" word-spacing="-0.4"><tspan font-style="italic">T</tspan> = 2K</text>
<text x="498.6" y="140.5" word-spacing="-0.4"><tspan font-style="italic">T</tspan> = 5K</text>
<text x="498.6" y="165.5" word-spacing="-0.4"><tspan font-style="italic">T</tspan> = 10K</text>
<text x="498.6" y="190.5" word-spacing="-0.4"><tspan font-style="italic">T</tspan> = 20K</text>
</g>
</svg>
</body></html>
